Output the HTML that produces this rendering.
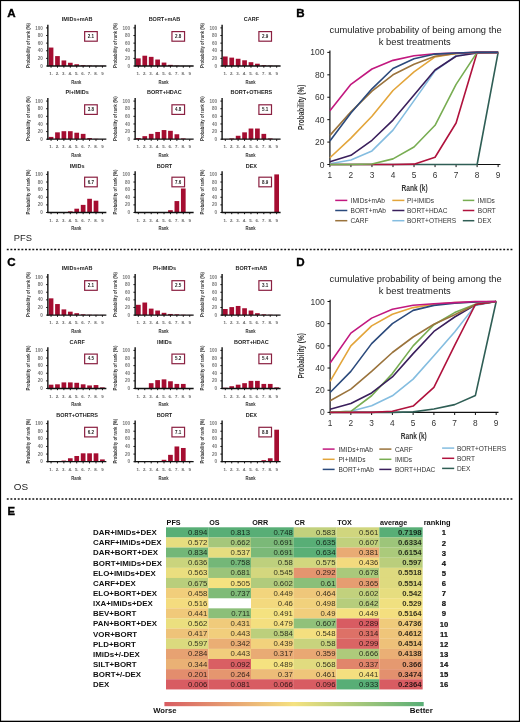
<!DOCTYPE html>
<html><head><meta charset="utf-8"><style>
html,body{margin:0;padding:0;background:#fff;}
svg{display:block;will-change:transform;font-family:"Liberation Sans",sans-serif;}
</style></head><body>
<svg width="520" height="722" viewBox="0 0 520 722">
<rect width="520" height="722" fill="#fff"/>
<rect x="48.7" y="47.56" width="4.7" height="18.44" fill="#a50d31"/>
<rect x="55.12" y="56.09" width="4.7" height="9.91" fill="#a50d31"/>
<rect x="61.54" y="60.44" width="4.7" height="5.56" fill="#a50d31"/>
<rect x="67.96" y="62.76" width="4.7" height="3.24" fill="#a50d31"/>
<rect x="74.38" y="64.25" width="4.7" height="1.75" fill="#a50d31"/>
<rect x="80.8" y="65.24" width="4.7" height="0.76" fill="#a50d31"/>
<rect x="87.22" y="65.62" width="4.7" height="0.38" fill="#a50d31"/>
<rect x="93.64" y="65.81" width="4.7" height="0.19" fill="#a50d31"/>
<rect x="100.06" y="65.81" width="4.7" height="0.19" fill="#a50d31"/>
<line x1="47.85" y1="24.8" x2="47.85" y2="66.6" stroke="#111" stroke-width="1.4"/>
<line x1="46.15" y1="66" x2="47.85" y2="66" stroke="#111" stroke-width="1"/>
<text x="42.85" y="67.6" font-size="4.6" text-anchor="end" font-weight="bold" fill="#777">0</text>
<line x1="46.15" y1="58.38" x2="47.85" y2="58.38" stroke="#111" stroke-width="1"/>
<text x="42.85" y="59.98" font-size="4.6" text-anchor="end" font-weight="bold" fill="#777">20</text>
<line x1="46.15" y1="50.76" x2="47.85" y2="50.76" stroke="#111" stroke-width="1"/>
<text x="42.85" y="52.36" font-size="4.6" text-anchor="end" font-weight="bold" fill="#777">40</text>
<line x1="46.15" y1="43.14" x2="47.85" y2="43.14" stroke="#111" stroke-width="1"/>
<text x="42.85" y="44.74" font-size="4.6" text-anchor="end" font-weight="bold" fill="#777">60</text>
<line x1="46.15" y1="35.52" x2="47.85" y2="35.52" stroke="#111" stroke-width="1"/>
<text x="42.85" y="37.12" font-size="4.6" text-anchor="end" font-weight="bold" fill="#777">80</text>
<line x1="46.15" y1="27.9" x2="47.85" y2="27.9" stroke="#111" stroke-width="1"/>
<text x="42.85" y="29.5" font-size="4.6" text-anchor="end" font-weight="bold" fill="#777">100</text>
<line x1="47.35" y1="66" x2="106.35" y2="66" stroke="#111" stroke-width="1.3"/>
<line x1="51.05" y1="66" x2="51.05" y2="67.7" stroke="#111" stroke-width="1"/>
<text x="51.05" y="75.2" font-size="4.4" text-anchor="middle" font-weight="bold" fill="#666">1.</text>
<line x1="57.47" y1="66" x2="57.47" y2="67.7" stroke="#111" stroke-width="1"/>
<text x="57.47" y="75.2" font-size="4.4" text-anchor="middle" font-weight="bold" fill="#666">2.</text>
<line x1="63.89" y1="66" x2="63.89" y2="67.7" stroke="#111" stroke-width="1"/>
<text x="63.89" y="75.2" font-size="4.4" text-anchor="middle" font-weight="bold" fill="#666">3.</text>
<line x1="70.31" y1="66" x2="70.31" y2="67.7" stroke="#111" stroke-width="1"/>
<text x="70.31" y="75.2" font-size="4.4" text-anchor="middle" font-weight="bold" fill="#666">4.</text>
<line x1="76.73" y1="66" x2="76.73" y2="67.7" stroke="#111" stroke-width="1"/>
<text x="76.73" y="75.2" font-size="4.4" text-anchor="middle" font-weight="bold" fill="#666">5.</text>
<line x1="83.15" y1="66" x2="83.15" y2="67.7" stroke="#111" stroke-width="1"/>
<text x="83.15" y="75.2" font-size="4.4" text-anchor="middle" font-weight="bold" fill="#666">6.</text>
<line x1="89.57" y1="66" x2="89.57" y2="67.7" stroke="#111" stroke-width="1"/>
<text x="89.57" y="75.2" font-size="4.4" text-anchor="middle" font-weight="bold" fill="#666">7.</text>
<line x1="95.99" y1="66" x2="95.99" y2="67.7" stroke="#111" stroke-width="1"/>
<text x="95.99" y="75.2" font-size="4.4" text-anchor="middle" font-weight="bold" fill="#666">8.</text>
<line x1="102.41" y1="66" x2="102.41" y2="67.7" stroke="#111" stroke-width="1"/>
<text x="102.41" y="75.2" font-size="4.4" text-anchor="middle" font-weight="bold" fill="#666">9</text>
<text x="76.25" y="83.8" font-size="5.6" text-anchor="middle" font-weight="bold" fill="#333" textLength="10.2" lengthAdjust="spacingAndGlyphs">Rank</text>
<text x="77.15" y="21" font-size="5.5" text-anchor="middle" font-weight="bold" fill="#222">IMIDs+mAB</text>
<rect x="84.65" y="31.6" width="12.6" height="9.6" fill="#fff" stroke="#8a2041" stroke-width="1.2"/>
<text x="90.95" y="37.9" font-size="4.5" text-anchor="middle" font-weight="bold" fill="#222">2.1</text>
<text x="0" y="0" font-size="5.9" font-weight="bold" text-anchor="middle" fill="#333" transform="translate(30.05 45.5) rotate(-90)" textLength="44.8" lengthAdjust="spacingAndGlyphs">Probability of rank (%)</text>
<rect x="136" y="58.38" width="4.7" height="7.62" fill="#a50d31"/>
<rect x="142.42" y="55.71" width="4.7" height="10.29" fill="#a50d31"/>
<rect x="148.84" y="56.86" width="4.7" height="9.14" fill="#a50d31"/>
<rect x="155.26" y="59.52" width="4.7" height="6.48" fill="#a50d31"/>
<rect x="161.68" y="62.57" width="4.7" height="3.43" fill="#a50d31"/>
<rect x="168.1" y="64.86" width="4.7" height="1.14" fill="#a50d31"/>
<rect x="174.52" y="65.62" width="4.7" height="0.38" fill="#a50d31"/>
<rect x="180.94" y="65.85" width="4.7" height="0.15" fill="#a50d31"/>
<rect x="187.36" y="65.89" width="4.7" height="0.11" fill="#a50d31"/>
<line x1="135.15" y1="24.8" x2="135.15" y2="66.6" stroke="#111" stroke-width="1.4"/>
<line x1="133.45" y1="66" x2="135.15" y2="66" stroke="#111" stroke-width="1"/>
<text x="130.15" y="67.6" font-size="4.6" text-anchor="end" font-weight="bold" fill="#777">0</text>
<line x1="133.45" y1="58.38" x2="135.15" y2="58.38" stroke="#111" stroke-width="1"/>
<text x="130.15" y="59.98" font-size="4.6" text-anchor="end" font-weight="bold" fill="#777">20</text>
<line x1="133.45" y1="50.76" x2="135.15" y2="50.76" stroke="#111" stroke-width="1"/>
<text x="130.15" y="52.36" font-size="4.6" text-anchor="end" font-weight="bold" fill="#777">40</text>
<line x1="133.45" y1="43.14" x2="135.15" y2="43.14" stroke="#111" stroke-width="1"/>
<text x="130.15" y="44.74" font-size="4.6" text-anchor="end" font-weight="bold" fill="#777">60</text>
<line x1="133.45" y1="35.52" x2="135.15" y2="35.52" stroke="#111" stroke-width="1"/>
<text x="130.15" y="37.12" font-size="4.6" text-anchor="end" font-weight="bold" fill="#777">80</text>
<line x1="133.45" y1="27.9" x2="135.15" y2="27.9" stroke="#111" stroke-width="1"/>
<text x="130.15" y="29.5" font-size="4.6" text-anchor="end" font-weight="bold" fill="#777">100</text>
<line x1="134.65" y1="66" x2="193.65" y2="66" stroke="#111" stroke-width="1.3"/>
<line x1="138.35" y1="66" x2="138.35" y2="67.7" stroke="#111" stroke-width="1"/>
<text x="138.35" y="75.2" font-size="4.4" text-anchor="middle" font-weight="bold" fill="#666">1.</text>
<line x1="144.77" y1="66" x2="144.77" y2="67.7" stroke="#111" stroke-width="1"/>
<text x="144.77" y="75.2" font-size="4.4" text-anchor="middle" font-weight="bold" fill="#666">2.</text>
<line x1="151.19" y1="66" x2="151.19" y2="67.7" stroke="#111" stroke-width="1"/>
<text x="151.19" y="75.2" font-size="4.4" text-anchor="middle" font-weight="bold" fill="#666">3.</text>
<line x1="157.61" y1="66" x2="157.61" y2="67.7" stroke="#111" stroke-width="1"/>
<text x="157.61" y="75.2" font-size="4.4" text-anchor="middle" font-weight="bold" fill="#666">4.</text>
<line x1="164.03" y1="66" x2="164.03" y2="67.7" stroke="#111" stroke-width="1"/>
<text x="164.03" y="75.2" font-size="4.4" text-anchor="middle" font-weight="bold" fill="#666">5.</text>
<line x1="170.45" y1="66" x2="170.45" y2="67.7" stroke="#111" stroke-width="1"/>
<text x="170.45" y="75.2" font-size="4.4" text-anchor="middle" font-weight="bold" fill="#666">6.</text>
<line x1="176.87" y1="66" x2="176.87" y2="67.7" stroke="#111" stroke-width="1"/>
<text x="176.87" y="75.2" font-size="4.4" text-anchor="middle" font-weight="bold" fill="#666">7.</text>
<line x1="183.29" y1="66" x2="183.29" y2="67.7" stroke="#111" stroke-width="1"/>
<text x="183.29" y="75.2" font-size="4.4" text-anchor="middle" font-weight="bold" fill="#666">8.</text>
<line x1="189.71" y1="66" x2="189.71" y2="67.7" stroke="#111" stroke-width="1"/>
<text x="189.71" y="75.2" font-size="4.4" text-anchor="middle" font-weight="bold" fill="#666">9</text>
<text x="163.55" y="83.8" font-size="5.6" text-anchor="middle" font-weight="bold" fill="#333" textLength="10.2" lengthAdjust="spacingAndGlyphs">Rank</text>
<text x="164.45" y="21" font-size="5.5" text-anchor="middle" font-weight="bold" fill="#222">BORT+mAB</text>
<rect x="171.95" y="31.6" width="12.6" height="9.6" fill="#fff" stroke="#8a2041" stroke-width="1.2"/>
<text x="178.25" y="37.9" font-size="4.5" text-anchor="middle" font-weight="bold" fill="#222">2.8</text>
<text x="0" y="0" font-size="5.9" font-weight="bold" text-anchor="middle" fill="#333" transform="translate(117.35 45.5) rotate(-90)" textLength="44.8" lengthAdjust="spacingAndGlyphs">Probability of rank (%)</text>
<rect x="222.95" y="56.48" width="4.7" height="9.53" fill="#a50d31"/>
<rect x="229.37" y="57.62" width="4.7" height="8.38" fill="#a50d31"/>
<rect x="235.79" y="58.76" width="4.7" height="7.24" fill="#a50d31"/>
<rect x="242.21" y="60.28" width="4.7" height="5.71" fill="#a50d31"/>
<rect x="248.63" y="62.19" width="4.7" height="3.81" fill="#a50d31"/>
<rect x="255.05" y="63.71" width="4.7" height="2.29" fill="#a50d31"/>
<rect x="261.47" y="65.24" width="4.7" height="0.76" fill="#a50d31"/>
<rect x="267.89" y="65.62" width="4.7" height="0.38" fill="#a50d31"/>
<rect x="274.31" y="65.85" width="4.7" height="0.15" fill="#a50d31"/>
<line x1="222.1" y1="24.8" x2="222.1" y2="66.6" stroke="#111" stroke-width="1.4"/>
<line x1="220.4" y1="66" x2="222.1" y2="66" stroke="#111" stroke-width="1"/>
<text x="217.1" y="67.6" font-size="4.6" text-anchor="end" font-weight="bold" fill="#777">0</text>
<line x1="220.4" y1="58.38" x2="222.1" y2="58.38" stroke="#111" stroke-width="1"/>
<text x="217.1" y="59.98" font-size="4.6" text-anchor="end" font-weight="bold" fill="#777">20</text>
<line x1="220.4" y1="50.76" x2="222.1" y2="50.76" stroke="#111" stroke-width="1"/>
<text x="217.1" y="52.36" font-size="4.6" text-anchor="end" font-weight="bold" fill="#777">40</text>
<line x1="220.4" y1="43.14" x2="222.1" y2="43.14" stroke="#111" stroke-width="1"/>
<text x="217.1" y="44.74" font-size="4.6" text-anchor="end" font-weight="bold" fill="#777">60</text>
<line x1="220.4" y1="35.52" x2="222.1" y2="35.52" stroke="#111" stroke-width="1"/>
<text x="217.1" y="37.12" font-size="4.6" text-anchor="end" font-weight="bold" fill="#777">80</text>
<line x1="220.4" y1="27.9" x2="222.1" y2="27.9" stroke="#111" stroke-width="1"/>
<text x="217.1" y="29.5" font-size="4.6" text-anchor="end" font-weight="bold" fill="#777">100</text>
<line x1="221.6" y1="66" x2="280.6" y2="66" stroke="#111" stroke-width="1.3"/>
<line x1="225.3" y1="66" x2="225.3" y2="67.7" stroke="#111" stroke-width="1"/>
<text x="225.3" y="75.2" font-size="4.4" text-anchor="middle" font-weight="bold" fill="#666">1.</text>
<line x1="231.72" y1="66" x2="231.72" y2="67.7" stroke="#111" stroke-width="1"/>
<text x="231.72" y="75.2" font-size="4.4" text-anchor="middle" font-weight="bold" fill="#666">2.</text>
<line x1="238.14" y1="66" x2="238.14" y2="67.7" stroke="#111" stroke-width="1"/>
<text x="238.14" y="75.2" font-size="4.4" text-anchor="middle" font-weight="bold" fill="#666">3.</text>
<line x1="244.56" y1="66" x2="244.56" y2="67.7" stroke="#111" stroke-width="1"/>
<text x="244.56" y="75.2" font-size="4.4" text-anchor="middle" font-weight="bold" fill="#666">4.</text>
<line x1="250.98" y1="66" x2="250.98" y2="67.7" stroke="#111" stroke-width="1"/>
<text x="250.98" y="75.2" font-size="4.4" text-anchor="middle" font-weight="bold" fill="#666">5.</text>
<line x1="257.4" y1="66" x2="257.4" y2="67.7" stroke="#111" stroke-width="1"/>
<text x="257.4" y="75.2" font-size="4.4" text-anchor="middle" font-weight="bold" fill="#666">6.</text>
<line x1="263.82" y1="66" x2="263.82" y2="67.7" stroke="#111" stroke-width="1"/>
<text x="263.82" y="75.2" font-size="4.4" text-anchor="middle" font-weight="bold" fill="#666">7.</text>
<line x1="270.24" y1="66" x2="270.24" y2="67.7" stroke="#111" stroke-width="1"/>
<text x="270.24" y="75.2" font-size="4.4" text-anchor="middle" font-weight="bold" fill="#666">8.</text>
<line x1="276.66" y1="66" x2="276.66" y2="67.7" stroke="#111" stroke-width="1"/>
<text x="276.66" y="75.2" font-size="4.4" text-anchor="middle" font-weight="bold" fill="#666">9</text>
<text x="250.5" y="83.8" font-size="5.6" text-anchor="middle" font-weight="bold" fill="#333" textLength="10.2" lengthAdjust="spacingAndGlyphs">Rank</text>
<text x="251.4" y="21" font-size="5.5" text-anchor="middle" font-weight="bold" fill="#222">CARF</text>
<rect x="258.9" y="31.6" width="12.6" height="9.6" fill="#fff" stroke="#8a2041" stroke-width="1.2"/>
<text x="265.2" y="37.9" font-size="4.5" text-anchor="middle" font-weight="bold" fill="#222">2.9</text>
<text x="0" y="0" font-size="5.9" font-weight="bold" text-anchor="middle" fill="#333" transform="translate(204.3 45.5) rotate(-90)" textLength="44.8" lengthAdjust="spacingAndGlyphs">Probability of rank (%)</text>
<rect x="48.7" y="136.91" width="4.7" height="2.29" fill="#a50d31"/>
<rect x="55.12" y="132.34" width="4.7" height="6.86" fill="#a50d31"/>
<rect x="61.54" y="131.2" width="4.7" height="8" fill="#a50d31"/>
<rect x="67.96" y="131.2" width="4.7" height="8" fill="#a50d31"/>
<rect x="74.38" y="132.72" width="4.7" height="6.48" fill="#a50d31"/>
<rect x="80.8" y="133.87" width="4.7" height="5.33" fill="#a50d31"/>
<rect x="87.22" y="138.06" width="4.7" height="1.14" fill="#a50d31"/>
<rect x="93.64" y="138.82" width="4.7" height="0.38" fill="#a50d31"/>
<rect x="100.06" y="139.05" width="4.7" height="0.15" fill="#a50d31"/>
<line x1="47.85" y1="98" x2="47.85" y2="139.8" stroke="#111" stroke-width="1.4"/>
<line x1="46.15" y1="139.2" x2="47.85" y2="139.2" stroke="#111" stroke-width="1"/>
<text x="42.85" y="140.8" font-size="4.6" text-anchor="end" font-weight="bold" fill="#777">0</text>
<line x1="46.15" y1="131.58" x2="47.85" y2="131.58" stroke="#111" stroke-width="1"/>
<text x="42.85" y="133.18" font-size="4.6" text-anchor="end" font-weight="bold" fill="#777">20</text>
<line x1="46.15" y1="123.96" x2="47.85" y2="123.96" stroke="#111" stroke-width="1"/>
<text x="42.85" y="125.56" font-size="4.6" text-anchor="end" font-weight="bold" fill="#777">40</text>
<line x1="46.15" y1="116.34" x2="47.85" y2="116.34" stroke="#111" stroke-width="1"/>
<text x="42.85" y="117.94" font-size="4.6" text-anchor="end" font-weight="bold" fill="#777">60</text>
<line x1="46.15" y1="108.72" x2="47.85" y2="108.72" stroke="#111" stroke-width="1"/>
<text x="42.85" y="110.32" font-size="4.6" text-anchor="end" font-weight="bold" fill="#777">80</text>
<line x1="46.15" y1="101.1" x2="47.85" y2="101.1" stroke="#111" stroke-width="1"/>
<text x="42.85" y="102.7" font-size="4.6" text-anchor="end" font-weight="bold" fill="#777">100</text>
<line x1="47.35" y1="139.2" x2="106.35" y2="139.2" stroke="#111" stroke-width="1.3"/>
<line x1="51.05" y1="139.2" x2="51.05" y2="140.9" stroke="#111" stroke-width="1"/>
<text x="51.05" y="148.4" font-size="4.4" text-anchor="middle" font-weight="bold" fill="#666">1.</text>
<line x1="57.47" y1="139.2" x2="57.47" y2="140.9" stroke="#111" stroke-width="1"/>
<text x="57.47" y="148.4" font-size="4.4" text-anchor="middle" font-weight="bold" fill="#666">2.</text>
<line x1="63.89" y1="139.2" x2="63.89" y2="140.9" stroke="#111" stroke-width="1"/>
<text x="63.89" y="148.4" font-size="4.4" text-anchor="middle" font-weight="bold" fill="#666">3.</text>
<line x1="70.31" y1="139.2" x2="70.31" y2="140.9" stroke="#111" stroke-width="1"/>
<text x="70.31" y="148.4" font-size="4.4" text-anchor="middle" font-weight="bold" fill="#666">4.</text>
<line x1="76.73" y1="139.2" x2="76.73" y2="140.9" stroke="#111" stroke-width="1"/>
<text x="76.73" y="148.4" font-size="4.4" text-anchor="middle" font-weight="bold" fill="#666">5.</text>
<line x1="83.15" y1="139.2" x2="83.15" y2="140.9" stroke="#111" stroke-width="1"/>
<text x="83.15" y="148.4" font-size="4.4" text-anchor="middle" font-weight="bold" fill="#666">6.</text>
<line x1="89.57" y1="139.2" x2="89.57" y2="140.9" stroke="#111" stroke-width="1"/>
<text x="89.57" y="148.4" font-size="4.4" text-anchor="middle" font-weight="bold" fill="#666">7.</text>
<line x1="95.99" y1="139.2" x2="95.99" y2="140.9" stroke="#111" stroke-width="1"/>
<text x="95.99" y="148.4" font-size="4.4" text-anchor="middle" font-weight="bold" fill="#666">8.</text>
<line x1="102.41" y1="139.2" x2="102.41" y2="140.9" stroke="#111" stroke-width="1"/>
<text x="102.41" y="148.4" font-size="4.4" text-anchor="middle" font-weight="bold" fill="#666">9</text>
<text x="76.25" y="157" font-size="5.6" text-anchor="middle" font-weight="bold" fill="#333" textLength="10.2" lengthAdjust="spacingAndGlyphs">Rank</text>
<text x="77.15" y="94.2" font-size="5.5" text-anchor="middle" font-weight="bold" fill="#222">PI+IMIDs</text>
<rect x="84.65" y="104.8" width="12.6" height="9.6" fill="#fff" stroke="#8a2041" stroke-width="1.2"/>
<text x="90.95" y="111.1" font-size="4.5" text-anchor="middle" font-weight="bold" fill="#222">3.8</text>
<text x="0" y="0" font-size="5.9" font-weight="bold" text-anchor="middle" fill="#333" transform="translate(30.05 118.7) rotate(-90)" textLength="44.8" lengthAdjust="spacingAndGlyphs">Probability of rank (%)</text>
<rect x="136" y="138.06" width="4.7" height="1.14" fill="#a50d31"/>
<rect x="142.42" y="136.15" width="4.7" height="3.05" fill="#a50d31"/>
<rect x="148.84" y="133.87" width="4.7" height="5.33" fill="#a50d31"/>
<rect x="155.26" y="131.96" width="4.7" height="7.24" fill="#a50d31"/>
<rect x="161.68" y="130.06" width="4.7" height="9.14" fill="#a50d31"/>
<rect x="168.1" y="130.82" width="4.7" height="8.38" fill="#a50d31"/>
<rect x="174.52" y="134.25" width="4.7" height="4.95" fill="#a50d31"/>
<rect x="180.94" y="138.44" width="4.7" height="0.76" fill="#a50d31"/>
<rect x="187.36" y="139.05" width="4.7" height="0.15" fill="#a50d31"/>
<line x1="135.15" y1="98" x2="135.15" y2="139.8" stroke="#111" stroke-width="1.4"/>
<line x1="133.45" y1="139.2" x2="135.15" y2="139.2" stroke="#111" stroke-width="1"/>
<text x="130.15" y="140.8" font-size="4.6" text-anchor="end" font-weight="bold" fill="#777">0</text>
<line x1="133.45" y1="131.58" x2="135.15" y2="131.58" stroke="#111" stroke-width="1"/>
<text x="130.15" y="133.18" font-size="4.6" text-anchor="end" font-weight="bold" fill="#777">20</text>
<line x1="133.45" y1="123.96" x2="135.15" y2="123.96" stroke="#111" stroke-width="1"/>
<text x="130.15" y="125.56" font-size="4.6" text-anchor="end" font-weight="bold" fill="#777">40</text>
<line x1="133.45" y1="116.34" x2="135.15" y2="116.34" stroke="#111" stroke-width="1"/>
<text x="130.15" y="117.94" font-size="4.6" text-anchor="end" font-weight="bold" fill="#777">60</text>
<line x1="133.45" y1="108.72" x2="135.15" y2="108.72" stroke="#111" stroke-width="1"/>
<text x="130.15" y="110.32" font-size="4.6" text-anchor="end" font-weight="bold" fill="#777">80</text>
<line x1="133.45" y1="101.1" x2="135.15" y2="101.1" stroke="#111" stroke-width="1"/>
<text x="130.15" y="102.7" font-size="4.6" text-anchor="end" font-weight="bold" fill="#777">100</text>
<line x1="134.65" y1="139.2" x2="193.65" y2="139.2" stroke="#111" stroke-width="1.3"/>
<line x1="138.35" y1="139.2" x2="138.35" y2="140.9" stroke="#111" stroke-width="1"/>
<text x="138.35" y="148.4" font-size="4.4" text-anchor="middle" font-weight="bold" fill="#666">1.</text>
<line x1="144.77" y1="139.2" x2="144.77" y2="140.9" stroke="#111" stroke-width="1"/>
<text x="144.77" y="148.4" font-size="4.4" text-anchor="middle" font-weight="bold" fill="#666">2.</text>
<line x1="151.19" y1="139.2" x2="151.19" y2="140.9" stroke="#111" stroke-width="1"/>
<text x="151.19" y="148.4" font-size="4.4" text-anchor="middle" font-weight="bold" fill="#666">3.</text>
<line x1="157.61" y1="139.2" x2="157.61" y2="140.9" stroke="#111" stroke-width="1"/>
<text x="157.61" y="148.4" font-size="4.4" text-anchor="middle" font-weight="bold" fill="#666">4.</text>
<line x1="164.03" y1="139.2" x2="164.03" y2="140.9" stroke="#111" stroke-width="1"/>
<text x="164.03" y="148.4" font-size="4.4" text-anchor="middle" font-weight="bold" fill="#666">5.</text>
<line x1="170.45" y1="139.2" x2="170.45" y2="140.9" stroke="#111" stroke-width="1"/>
<text x="170.45" y="148.4" font-size="4.4" text-anchor="middle" font-weight="bold" fill="#666">6.</text>
<line x1="176.87" y1="139.2" x2="176.87" y2="140.9" stroke="#111" stroke-width="1"/>
<text x="176.87" y="148.4" font-size="4.4" text-anchor="middle" font-weight="bold" fill="#666">7.</text>
<line x1="183.29" y1="139.2" x2="183.29" y2="140.9" stroke="#111" stroke-width="1"/>
<text x="183.29" y="148.4" font-size="4.4" text-anchor="middle" font-weight="bold" fill="#666">8.</text>
<line x1="189.71" y1="139.2" x2="189.71" y2="140.9" stroke="#111" stroke-width="1"/>
<text x="189.71" y="148.4" font-size="4.4" text-anchor="middle" font-weight="bold" fill="#666">9</text>
<text x="163.55" y="157" font-size="5.6" text-anchor="middle" font-weight="bold" fill="#333" textLength="10.2" lengthAdjust="spacingAndGlyphs">Rank</text>
<text x="164.45" y="94.2" font-size="5.5" text-anchor="middle" font-weight="bold" fill="#222">BORT+HDAC</text>
<rect x="171.95" y="104.8" width="12.6" height="9.6" fill="#fff" stroke="#8a2041" stroke-width="1.2"/>
<text x="178.25" y="111.1" font-size="4.5" text-anchor="middle" font-weight="bold" fill="#222">4.8</text>
<text x="0" y="0" font-size="5.9" font-weight="bold" text-anchor="middle" fill="#333" transform="translate(117.35 118.7) rotate(-90)" textLength="44.8" lengthAdjust="spacingAndGlyphs">Probability of rank (%)</text>
<rect x="222.95" y="139.05" width="4.7" height="0.15" fill="#a50d31"/>
<rect x="229.37" y="138.44" width="4.7" height="0.76" fill="#a50d31"/>
<rect x="235.79" y="135.77" width="4.7" height="3.43" fill="#a50d31"/>
<rect x="242.21" y="132.34" width="4.7" height="6.86" fill="#a50d31"/>
<rect x="248.63" y="128.53" width="4.7" height="10.67" fill="#a50d31"/>
<rect x="255.05" y="128.53" width="4.7" height="10.67" fill="#a50d31"/>
<rect x="261.47" y="133.87" width="4.7" height="5.33" fill="#a50d31"/>
<rect x="267.89" y="138.44" width="4.7" height="0.76" fill="#a50d31"/>
<rect x="274.31" y="139.05" width="4.7" height="0.15" fill="#a50d31"/>
<line x1="222.1" y1="98" x2="222.1" y2="139.8" stroke="#111" stroke-width="1.4"/>
<line x1="220.4" y1="139.2" x2="222.1" y2="139.2" stroke="#111" stroke-width="1"/>
<text x="217.1" y="140.8" font-size="4.6" text-anchor="end" font-weight="bold" fill="#777">0</text>
<line x1="220.4" y1="131.58" x2="222.1" y2="131.58" stroke="#111" stroke-width="1"/>
<text x="217.1" y="133.18" font-size="4.6" text-anchor="end" font-weight="bold" fill="#777">20</text>
<line x1="220.4" y1="123.96" x2="222.1" y2="123.96" stroke="#111" stroke-width="1"/>
<text x="217.1" y="125.56" font-size="4.6" text-anchor="end" font-weight="bold" fill="#777">40</text>
<line x1="220.4" y1="116.34" x2="222.1" y2="116.34" stroke="#111" stroke-width="1"/>
<text x="217.1" y="117.94" font-size="4.6" text-anchor="end" font-weight="bold" fill="#777">60</text>
<line x1="220.4" y1="108.72" x2="222.1" y2="108.72" stroke="#111" stroke-width="1"/>
<text x="217.1" y="110.32" font-size="4.6" text-anchor="end" font-weight="bold" fill="#777">80</text>
<line x1="220.4" y1="101.1" x2="222.1" y2="101.1" stroke="#111" stroke-width="1"/>
<text x="217.1" y="102.7" font-size="4.6" text-anchor="end" font-weight="bold" fill="#777">100</text>
<line x1="221.6" y1="139.2" x2="280.6" y2="139.2" stroke="#111" stroke-width="1.3"/>
<line x1="225.3" y1="139.2" x2="225.3" y2="140.9" stroke="#111" stroke-width="1"/>
<text x="225.3" y="148.4" font-size="4.4" text-anchor="middle" font-weight="bold" fill="#666">1.</text>
<line x1="231.72" y1="139.2" x2="231.72" y2="140.9" stroke="#111" stroke-width="1"/>
<text x="231.72" y="148.4" font-size="4.4" text-anchor="middle" font-weight="bold" fill="#666">2.</text>
<line x1="238.14" y1="139.2" x2="238.14" y2="140.9" stroke="#111" stroke-width="1"/>
<text x="238.14" y="148.4" font-size="4.4" text-anchor="middle" font-weight="bold" fill="#666">3.</text>
<line x1="244.56" y1="139.2" x2="244.56" y2="140.9" stroke="#111" stroke-width="1"/>
<text x="244.56" y="148.4" font-size="4.4" text-anchor="middle" font-weight="bold" fill="#666">4.</text>
<line x1="250.98" y1="139.2" x2="250.98" y2="140.9" stroke="#111" stroke-width="1"/>
<text x="250.98" y="148.4" font-size="4.4" text-anchor="middle" font-weight="bold" fill="#666">5.</text>
<line x1="257.4" y1="139.2" x2="257.4" y2="140.9" stroke="#111" stroke-width="1"/>
<text x="257.4" y="148.4" font-size="4.4" text-anchor="middle" font-weight="bold" fill="#666">6.</text>
<line x1="263.82" y1="139.2" x2="263.82" y2="140.9" stroke="#111" stroke-width="1"/>
<text x="263.82" y="148.4" font-size="4.4" text-anchor="middle" font-weight="bold" fill="#666">7.</text>
<line x1="270.24" y1="139.2" x2="270.24" y2="140.9" stroke="#111" stroke-width="1"/>
<text x="270.24" y="148.4" font-size="4.4" text-anchor="middle" font-weight="bold" fill="#666">8.</text>
<line x1="276.66" y1="139.2" x2="276.66" y2="140.9" stroke="#111" stroke-width="1"/>
<text x="276.66" y="148.4" font-size="4.4" text-anchor="middle" font-weight="bold" fill="#666">9</text>
<text x="250.5" y="157" font-size="5.6" text-anchor="middle" font-weight="bold" fill="#333" textLength="10.2" lengthAdjust="spacingAndGlyphs">Rank</text>
<text x="251.4" y="94.2" font-size="5.5" text-anchor="middle" font-weight="bold" fill="#222">BORT+OTHERS</text>
<rect x="258.9" y="104.8" width="12.6" height="9.6" fill="#fff" stroke="#8a2041" stroke-width="1.2"/>
<text x="265.2" y="111.1" font-size="4.5" text-anchor="middle" font-weight="bold" fill="#222">5.1</text>
<text x="0" y="0" font-size="5.9" font-weight="bold" text-anchor="middle" fill="#333" transform="translate(204.3 118.7) rotate(-90)" textLength="44.8" lengthAdjust="spacingAndGlyphs">Probability of rank (%)</text>
<rect x="67.96" y="211.36" width="4.7" height="1.14" fill="#a50d31"/>
<rect x="74.38" y="208.69" width="4.7" height="3.81" fill="#a50d31"/>
<rect x="80.8" y="204.88" width="4.7" height="7.62" fill="#a50d31"/>
<rect x="87.22" y="198.78" width="4.7" height="13.72" fill="#a50d31"/>
<rect x="93.64" y="200.69" width="4.7" height="11.81" fill="#a50d31"/>
<rect x="100.06" y="212.35" width="4.7" height="0.15" fill="#a50d31"/>
<line x1="47.85" y1="171.3" x2="47.85" y2="213.1" stroke="#111" stroke-width="1.4"/>
<line x1="46.15" y1="212.5" x2="47.85" y2="212.5" stroke="#111" stroke-width="1"/>
<text x="42.85" y="214.1" font-size="4.6" text-anchor="end" font-weight="bold" fill="#777">0</text>
<line x1="46.15" y1="204.88" x2="47.85" y2="204.88" stroke="#111" stroke-width="1"/>
<text x="42.85" y="206.48" font-size="4.6" text-anchor="end" font-weight="bold" fill="#777">20</text>
<line x1="46.15" y1="197.26" x2="47.85" y2="197.26" stroke="#111" stroke-width="1"/>
<text x="42.85" y="198.86" font-size="4.6" text-anchor="end" font-weight="bold" fill="#777">40</text>
<line x1="46.15" y1="189.64" x2="47.85" y2="189.64" stroke="#111" stroke-width="1"/>
<text x="42.85" y="191.24" font-size="4.6" text-anchor="end" font-weight="bold" fill="#777">60</text>
<line x1="46.15" y1="182.02" x2="47.85" y2="182.02" stroke="#111" stroke-width="1"/>
<text x="42.85" y="183.62" font-size="4.6" text-anchor="end" font-weight="bold" fill="#777">80</text>
<line x1="46.15" y1="174.4" x2="47.85" y2="174.4" stroke="#111" stroke-width="1"/>
<text x="42.85" y="176" font-size="4.6" text-anchor="end" font-weight="bold" fill="#777">100</text>
<line x1="47.35" y1="212.5" x2="106.35" y2="212.5" stroke="#111" stroke-width="1.3"/>
<line x1="51.05" y1="212.5" x2="51.05" y2="214.2" stroke="#111" stroke-width="1"/>
<text x="51.05" y="221.7" font-size="4.4" text-anchor="middle" font-weight="bold" fill="#666">1.</text>
<line x1="57.47" y1="212.5" x2="57.47" y2="214.2" stroke="#111" stroke-width="1"/>
<text x="57.47" y="221.7" font-size="4.4" text-anchor="middle" font-weight="bold" fill="#666">2.</text>
<line x1="63.89" y1="212.5" x2="63.89" y2="214.2" stroke="#111" stroke-width="1"/>
<text x="63.89" y="221.7" font-size="4.4" text-anchor="middle" font-weight="bold" fill="#666">3.</text>
<line x1="70.31" y1="212.5" x2="70.31" y2="214.2" stroke="#111" stroke-width="1"/>
<text x="70.31" y="221.7" font-size="4.4" text-anchor="middle" font-weight="bold" fill="#666">4.</text>
<line x1="76.73" y1="212.5" x2="76.73" y2="214.2" stroke="#111" stroke-width="1"/>
<text x="76.73" y="221.7" font-size="4.4" text-anchor="middle" font-weight="bold" fill="#666">5.</text>
<line x1="83.15" y1="212.5" x2="83.15" y2="214.2" stroke="#111" stroke-width="1"/>
<text x="83.15" y="221.7" font-size="4.4" text-anchor="middle" font-weight="bold" fill="#666">6.</text>
<line x1="89.57" y1="212.5" x2="89.57" y2="214.2" stroke="#111" stroke-width="1"/>
<text x="89.57" y="221.7" font-size="4.4" text-anchor="middle" font-weight="bold" fill="#666">7.</text>
<line x1="95.99" y1="212.5" x2="95.99" y2="214.2" stroke="#111" stroke-width="1"/>
<text x="95.99" y="221.7" font-size="4.4" text-anchor="middle" font-weight="bold" fill="#666">8.</text>
<line x1="102.41" y1="212.5" x2="102.41" y2="214.2" stroke="#111" stroke-width="1"/>
<text x="102.41" y="221.7" font-size="4.4" text-anchor="middle" font-weight="bold" fill="#666">9</text>
<text x="76.25" y="230.3" font-size="5.6" text-anchor="middle" font-weight="bold" fill="#333" textLength="10.2" lengthAdjust="spacingAndGlyphs">Rank</text>
<text x="77.15" y="167.5" font-size="5.5" text-anchor="middle" font-weight="bold" fill="#222">IMIDs</text>
<rect x="84.65" y="177.2" width="12.6" height="9.6" fill="#fff" stroke="#8a2041" stroke-width="1.2"/>
<text x="90.95" y="183.5" font-size="4.5" text-anchor="middle" font-weight="bold" fill="#222">6.7</text>
<text x="0" y="0" font-size="5.9" font-weight="bold" text-anchor="middle" fill="#333" transform="translate(30.05 192) rotate(-90)" textLength="44.8" lengthAdjust="spacingAndGlyphs">Probability of rank (%)</text>
<rect x="161.68" y="212.12" width="4.7" height="0.38" fill="#a50d31"/>
<rect x="168.1" y="210.21" width="4.7" height="2.29" fill="#a50d31"/>
<rect x="174.52" y="201.07" width="4.7" height="11.43" fill="#a50d31"/>
<rect x="180.94" y="188.5" width="4.7" height="24" fill="#a50d31"/>
<rect x="187.36" y="212.35" width="4.7" height="0.15" fill="#a50d31"/>
<line x1="135.15" y1="171.3" x2="135.15" y2="213.1" stroke="#111" stroke-width="1.4"/>
<line x1="133.45" y1="212.5" x2="135.15" y2="212.5" stroke="#111" stroke-width="1"/>
<text x="130.15" y="214.1" font-size="4.6" text-anchor="end" font-weight="bold" fill="#777">0</text>
<line x1="133.45" y1="204.88" x2="135.15" y2="204.88" stroke="#111" stroke-width="1"/>
<text x="130.15" y="206.48" font-size="4.6" text-anchor="end" font-weight="bold" fill="#777">20</text>
<line x1="133.45" y1="197.26" x2="135.15" y2="197.26" stroke="#111" stroke-width="1"/>
<text x="130.15" y="198.86" font-size="4.6" text-anchor="end" font-weight="bold" fill="#777">40</text>
<line x1="133.45" y1="189.64" x2="135.15" y2="189.64" stroke="#111" stroke-width="1"/>
<text x="130.15" y="191.24" font-size="4.6" text-anchor="end" font-weight="bold" fill="#777">60</text>
<line x1="133.45" y1="182.02" x2="135.15" y2="182.02" stroke="#111" stroke-width="1"/>
<text x="130.15" y="183.62" font-size="4.6" text-anchor="end" font-weight="bold" fill="#777">80</text>
<line x1="133.45" y1="174.4" x2="135.15" y2="174.4" stroke="#111" stroke-width="1"/>
<text x="130.15" y="176" font-size="4.6" text-anchor="end" font-weight="bold" fill="#777">100</text>
<line x1="134.65" y1="212.5" x2="193.65" y2="212.5" stroke="#111" stroke-width="1.3"/>
<line x1="138.35" y1="212.5" x2="138.35" y2="214.2" stroke="#111" stroke-width="1"/>
<text x="138.35" y="221.7" font-size="4.4" text-anchor="middle" font-weight="bold" fill="#666">1.</text>
<line x1="144.77" y1="212.5" x2="144.77" y2="214.2" stroke="#111" stroke-width="1"/>
<text x="144.77" y="221.7" font-size="4.4" text-anchor="middle" font-weight="bold" fill="#666">2.</text>
<line x1="151.19" y1="212.5" x2="151.19" y2="214.2" stroke="#111" stroke-width="1"/>
<text x="151.19" y="221.7" font-size="4.4" text-anchor="middle" font-weight="bold" fill="#666">3.</text>
<line x1="157.61" y1="212.5" x2="157.61" y2="214.2" stroke="#111" stroke-width="1"/>
<text x="157.61" y="221.7" font-size="4.4" text-anchor="middle" font-weight="bold" fill="#666">4.</text>
<line x1="164.03" y1="212.5" x2="164.03" y2="214.2" stroke="#111" stroke-width="1"/>
<text x="164.03" y="221.7" font-size="4.4" text-anchor="middle" font-weight="bold" fill="#666">5.</text>
<line x1="170.45" y1="212.5" x2="170.45" y2="214.2" stroke="#111" stroke-width="1"/>
<text x="170.45" y="221.7" font-size="4.4" text-anchor="middle" font-weight="bold" fill="#666">6.</text>
<line x1="176.87" y1="212.5" x2="176.87" y2="214.2" stroke="#111" stroke-width="1"/>
<text x="176.87" y="221.7" font-size="4.4" text-anchor="middle" font-weight="bold" fill="#666">7.</text>
<line x1="183.29" y1="212.5" x2="183.29" y2="214.2" stroke="#111" stroke-width="1"/>
<text x="183.29" y="221.7" font-size="4.4" text-anchor="middle" font-weight="bold" fill="#666">8.</text>
<line x1="189.71" y1="212.5" x2="189.71" y2="214.2" stroke="#111" stroke-width="1"/>
<text x="189.71" y="221.7" font-size="4.4" text-anchor="middle" font-weight="bold" fill="#666">9</text>
<text x="163.55" y="230.3" font-size="5.6" text-anchor="middle" font-weight="bold" fill="#333" textLength="10.2" lengthAdjust="spacingAndGlyphs">Rank</text>
<text x="164.45" y="167.5" font-size="5.5" text-anchor="middle" font-weight="bold" fill="#222">BORT</text>
<rect x="171.95" y="177.2" width="12.6" height="9.6" fill="#fff" stroke="#8a2041" stroke-width="1.2"/>
<text x="178.25" y="183.5" font-size="4.5" text-anchor="middle" font-weight="bold" fill="#222">7.6</text>
<text x="0" y="0" font-size="5.9" font-weight="bold" text-anchor="middle" fill="#333" transform="translate(117.35 192) rotate(-90)" textLength="44.8" lengthAdjust="spacingAndGlyphs">Probability of rank (%)</text>
<rect x="267.89" y="212.27" width="4.7" height="0.23" fill="#a50d31"/>
<rect x="274.31" y="174.4" width="4.7" height="38.1" fill="#a50d31"/>
<line x1="222.1" y1="171.3" x2="222.1" y2="213.1" stroke="#111" stroke-width="1.4"/>
<line x1="220.4" y1="212.5" x2="222.1" y2="212.5" stroke="#111" stroke-width="1"/>
<text x="217.1" y="214.1" font-size="4.6" text-anchor="end" font-weight="bold" fill="#777">0</text>
<line x1="220.4" y1="204.88" x2="222.1" y2="204.88" stroke="#111" stroke-width="1"/>
<text x="217.1" y="206.48" font-size="4.6" text-anchor="end" font-weight="bold" fill="#777">20</text>
<line x1="220.4" y1="197.26" x2="222.1" y2="197.26" stroke="#111" stroke-width="1"/>
<text x="217.1" y="198.86" font-size="4.6" text-anchor="end" font-weight="bold" fill="#777">40</text>
<line x1="220.4" y1="189.64" x2="222.1" y2="189.64" stroke="#111" stroke-width="1"/>
<text x="217.1" y="191.24" font-size="4.6" text-anchor="end" font-weight="bold" fill="#777">60</text>
<line x1="220.4" y1="182.02" x2="222.1" y2="182.02" stroke="#111" stroke-width="1"/>
<text x="217.1" y="183.62" font-size="4.6" text-anchor="end" font-weight="bold" fill="#777">80</text>
<line x1="220.4" y1="174.4" x2="222.1" y2="174.4" stroke="#111" stroke-width="1"/>
<text x="217.1" y="176" font-size="4.6" text-anchor="end" font-weight="bold" fill="#777">100</text>
<line x1="221.6" y1="212.5" x2="280.6" y2="212.5" stroke="#111" stroke-width="1.3"/>
<line x1="225.3" y1="212.5" x2="225.3" y2="214.2" stroke="#111" stroke-width="1"/>
<text x="225.3" y="221.7" font-size="4.4" text-anchor="middle" font-weight="bold" fill="#666">1.</text>
<line x1="231.72" y1="212.5" x2="231.72" y2="214.2" stroke="#111" stroke-width="1"/>
<text x="231.72" y="221.7" font-size="4.4" text-anchor="middle" font-weight="bold" fill="#666">2.</text>
<line x1="238.14" y1="212.5" x2="238.14" y2="214.2" stroke="#111" stroke-width="1"/>
<text x="238.14" y="221.7" font-size="4.4" text-anchor="middle" font-weight="bold" fill="#666">3.</text>
<line x1="244.56" y1="212.5" x2="244.56" y2="214.2" stroke="#111" stroke-width="1"/>
<text x="244.56" y="221.7" font-size="4.4" text-anchor="middle" font-weight="bold" fill="#666">4.</text>
<line x1="250.98" y1="212.5" x2="250.98" y2="214.2" stroke="#111" stroke-width="1"/>
<text x="250.98" y="221.7" font-size="4.4" text-anchor="middle" font-weight="bold" fill="#666">5.</text>
<line x1="257.4" y1="212.5" x2="257.4" y2="214.2" stroke="#111" stroke-width="1"/>
<text x="257.4" y="221.7" font-size="4.4" text-anchor="middle" font-weight="bold" fill="#666">6.</text>
<line x1="263.82" y1="212.5" x2="263.82" y2="214.2" stroke="#111" stroke-width="1"/>
<text x="263.82" y="221.7" font-size="4.4" text-anchor="middle" font-weight="bold" fill="#666">7.</text>
<line x1="270.24" y1="212.5" x2="270.24" y2="214.2" stroke="#111" stroke-width="1"/>
<text x="270.24" y="221.7" font-size="4.4" text-anchor="middle" font-weight="bold" fill="#666">8.</text>
<line x1="276.66" y1="212.5" x2="276.66" y2="214.2" stroke="#111" stroke-width="1"/>
<text x="276.66" y="221.7" font-size="4.4" text-anchor="middle" font-weight="bold" fill="#666">9</text>
<text x="250.5" y="230.3" font-size="5.6" text-anchor="middle" font-weight="bold" fill="#333" textLength="10.2" lengthAdjust="spacingAndGlyphs">Rank</text>
<text x="251.4" y="167.5" font-size="5.5" text-anchor="middle" font-weight="bold" fill="#222">DEX</text>
<rect x="258.9" y="177.2" width="12.6" height="9.6" fill="#fff" stroke="#8a2041" stroke-width="1.2"/>
<text x="265.2" y="183.5" font-size="4.5" text-anchor="middle" font-weight="bold" fill="#222">8.9</text>
<text x="0" y="0" font-size="5.9" font-weight="bold" text-anchor="middle" fill="#333" transform="translate(204.3 192) rotate(-90)" textLength="44.8" lengthAdjust="spacingAndGlyphs">Probability of rank (%)</text>
<rect x="48.7" y="298.34" width="4.7" height="16.76" fill="#a50d31"/>
<rect x="55.12" y="304.05" width="4.7" height="11.05" fill="#a50d31"/>
<rect x="61.54" y="309.39" width="4.7" height="5.71" fill="#a50d31"/>
<rect x="67.96" y="311.67" width="4.7" height="3.43" fill="#a50d31"/>
<rect x="74.38" y="313.2" width="4.7" height="1.91" fill="#a50d31"/>
<rect x="80.8" y="314.34" width="4.7" height="0.76" fill="#a50d31"/>
<rect x="87.22" y="314.72" width="4.7" height="0.38" fill="#a50d31"/>
<rect x="93.64" y="314.87" width="4.7" height="0.23" fill="#a50d31"/>
<rect x="100.06" y="314.91" width="4.7" height="0.19" fill="#a50d31"/>
<line x1="47.85" y1="273.9" x2="47.85" y2="315.7" stroke="#111" stroke-width="1.4"/>
<line x1="46.15" y1="315.1" x2="47.85" y2="315.1" stroke="#111" stroke-width="1"/>
<text x="42.85" y="316.7" font-size="4.6" text-anchor="end" font-weight="bold" fill="#777">0</text>
<line x1="46.15" y1="307.48" x2="47.85" y2="307.48" stroke="#111" stroke-width="1"/>
<text x="42.85" y="309.08" font-size="4.6" text-anchor="end" font-weight="bold" fill="#777">20</text>
<line x1="46.15" y1="299.86" x2="47.85" y2="299.86" stroke="#111" stroke-width="1"/>
<text x="42.85" y="301.46" font-size="4.6" text-anchor="end" font-weight="bold" fill="#777">40</text>
<line x1="46.15" y1="292.24" x2="47.85" y2="292.24" stroke="#111" stroke-width="1"/>
<text x="42.85" y="293.84" font-size="4.6" text-anchor="end" font-weight="bold" fill="#777">60</text>
<line x1="46.15" y1="284.62" x2="47.85" y2="284.62" stroke="#111" stroke-width="1"/>
<text x="42.85" y="286.22" font-size="4.6" text-anchor="end" font-weight="bold" fill="#777">80</text>
<line x1="46.15" y1="277" x2="47.85" y2="277" stroke="#111" stroke-width="1"/>
<text x="42.85" y="278.6" font-size="4.6" text-anchor="end" font-weight="bold" fill="#777">100</text>
<line x1="47.35" y1="315.1" x2="106.35" y2="315.1" stroke="#111" stroke-width="1.3"/>
<line x1="51.05" y1="315.1" x2="51.05" y2="316.8" stroke="#111" stroke-width="1"/>
<text x="51.05" y="324.3" font-size="4.4" text-anchor="middle" font-weight="bold" fill="#666">1.</text>
<line x1="57.47" y1="315.1" x2="57.47" y2="316.8" stroke="#111" stroke-width="1"/>
<text x="57.47" y="324.3" font-size="4.4" text-anchor="middle" font-weight="bold" fill="#666">2.</text>
<line x1="63.89" y1="315.1" x2="63.89" y2="316.8" stroke="#111" stroke-width="1"/>
<text x="63.89" y="324.3" font-size="4.4" text-anchor="middle" font-weight="bold" fill="#666">3.</text>
<line x1="70.31" y1="315.1" x2="70.31" y2="316.8" stroke="#111" stroke-width="1"/>
<text x="70.31" y="324.3" font-size="4.4" text-anchor="middle" font-weight="bold" fill="#666">4.</text>
<line x1="76.73" y1="315.1" x2="76.73" y2="316.8" stroke="#111" stroke-width="1"/>
<text x="76.73" y="324.3" font-size="4.4" text-anchor="middle" font-weight="bold" fill="#666">5.</text>
<line x1="83.15" y1="315.1" x2="83.15" y2="316.8" stroke="#111" stroke-width="1"/>
<text x="83.15" y="324.3" font-size="4.4" text-anchor="middle" font-weight="bold" fill="#666">6.</text>
<line x1="89.57" y1="315.1" x2="89.57" y2="316.8" stroke="#111" stroke-width="1"/>
<text x="89.57" y="324.3" font-size="4.4" text-anchor="middle" font-weight="bold" fill="#666">7.</text>
<line x1="95.99" y1="315.1" x2="95.99" y2="316.8" stroke="#111" stroke-width="1"/>
<text x="95.99" y="324.3" font-size="4.4" text-anchor="middle" font-weight="bold" fill="#666">8.</text>
<line x1="102.41" y1="315.1" x2="102.41" y2="316.8" stroke="#111" stroke-width="1"/>
<text x="102.41" y="324.3" font-size="4.4" text-anchor="middle" font-weight="bold" fill="#666">9</text>
<text x="76.25" y="332.9" font-size="5.6" text-anchor="middle" font-weight="bold" fill="#333" textLength="10.2" lengthAdjust="spacingAndGlyphs">Rank</text>
<text x="77.15" y="270.1" font-size="5.5" text-anchor="middle" font-weight="bold" fill="#222">IMIDs+mAB</text>
<rect x="84.65" y="280.7" width="12.6" height="9.6" fill="#fff" stroke="#8a2041" stroke-width="1.2"/>
<text x="90.95" y="287" font-size="4.5" text-anchor="middle" font-weight="bold" fill="#222">2.1</text>
<text x="0" y="0" font-size="5.9" font-weight="bold" text-anchor="middle" fill="#333" transform="translate(30.05 294.6) rotate(-90)" textLength="44.8" lengthAdjust="spacingAndGlyphs">Probability of rank (%)</text>
<rect x="136" y="304.81" width="4.7" height="10.29" fill="#a50d31"/>
<rect x="142.42" y="302.53" width="4.7" height="12.57" fill="#a50d31"/>
<rect x="148.84" y="308.62" width="4.7" height="6.48" fill="#a50d31"/>
<rect x="155.26" y="310.53" width="4.7" height="4.57" fill="#a50d31"/>
<rect x="161.68" y="312.81" width="4.7" height="2.29" fill="#a50d31"/>
<rect x="168.1" y="313.96" width="4.7" height="1.14" fill="#a50d31"/>
<rect x="174.52" y="314.34" width="4.7" height="0.76" fill="#a50d31"/>
<rect x="180.94" y="314.72" width="4.7" height="0.38" fill="#a50d31"/>
<rect x="187.36" y="314.91" width="4.7" height="0.19" fill="#a50d31"/>
<line x1="135.15" y1="273.9" x2="135.15" y2="315.7" stroke="#111" stroke-width="1.4"/>
<line x1="133.45" y1="315.1" x2="135.15" y2="315.1" stroke="#111" stroke-width="1"/>
<text x="130.15" y="316.7" font-size="4.6" text-anchor="end" font-weight="bold" fill="#777">0</text>
<line x1="133.45" y1="307.48" x2="135.15" y2="307.48" stroke="#111" stroke-width="1"/>
<text x="130.15" y="309.08" font-size="4.6" text-anchor="end" font-weight="bold" fill="#777">20</text>
<line x1="133.45" y1="299.86" x2="135.15" y2="299.86" stroke="#111" stroke-width="1"/>
<text x="130.15" y="301.46" font-size="4.6" text-anchor="end" font-weight="bold" fill="#777">40</text>
<line x1="133.45" y1="292.24" x2="135.15" y2="292.24" stroke="#111" stroke-width="1"/>
<text x="130.15" y="293.84" font-size="4.6" text-anchor="end" font-weight="bold" fill="#777">60</text>
<line x1="133.45" y1="284.62" x2="135.15" y2="284.62" stroke="#111" stroke-width="1"/>
<text x="130.15" y="286.22" font-size="4.6" text-anchor="end" font-weight="bold" fill="#777">80</text>
<line x1="133.45" y1="277" x2="135.15" y2="277" stroke="#111" stroke-width="1"/>
<text x="130.15" y="278.6" font-size="4.6" text-anchor="end" font-weight="bold" fill="#777">100</text>
<line x1="134.65" y1="315.1" x2="193.65" y2="315.1" stroke="#111" stroke-width="1.3"/>
<line x1="138.35" y1="315.1" x2="138.35" y2="316.8" stroke="#111" stroke-width="1"/>
<text x="138.35" y="324.3" font-size="4.4" text-anchor="middle" font-weight="bold" fill="#666">1.</text>
<line x1="144.77" y1="315.1" x2="144.77" y2="316.8" stroke="#111" stroke-width="1"/>
<text x="144.77" y="324.3" font-size="4.4" text-anchor="middle" font-weight="bold" fill="#666">2.</text>
<line x1="151.19" y1="315.1" x2="151.19" y2="316.8" stroke="#111" stroke-width="1"/>
<text x="151.19" y="324.3" font-size="4.4" text-anchor="middle" font-weight="bold" fill="#666">3.</text>
<line x1="157.61" y1="315.1" x2="157.61" y2="316.8" stroke="#111" stroke-width="1"/>
<text x="157.61" y="324.3" font-size="4.4" text-anchor="middle" font-weight="bold" fill="#666">4.</text>
<line x1="164.03" y1="315.1" x2="164.03" y2="316.8" stroke="#111" stroke-width="1"/>
<text x="164.03" y="324.3" font-size="4.4" text-anchor="middle" font-weight="bold" fill="#666">5.</text>
<line x1="170.45" y1="315.1" x2="170.45" y2="316.8" stroke="#111" stroke-width="1"/>
<text x="170.45" y="324.3" font-size="4.4" text-anchor="middle" font-weight="bold" fill="#666">6.</text>
<line x1="176.87" y1="315.1" x2="176.87" y2="316.8" stroke="#111" stroke-width="1"/>
<text x="176.87" y="324.3" font-size="4.4" text-anchor="middle" font-weight="bold" fill="#666">7.</text>
<line x1="183.29" y1="315.1" x2="183.29" y2="316.8" stroke="#111" stroke-width="1"/>
<text x="183.29" y="324.3" font-size="4.4" text-anchor="middle" font-weight="bold" fill="#666">8.</text>
<line x1="189.71" y1="315.1" x2="189.71" y2="316.8" stroke="#111" stroke-width="1"/>
<text x="189.71" y="324.3" font-size="4.4" text-anchor="middle" font-weight="bold" fill="#666">9</text>
<text x="163.55" y="332.9" font-size="5.6" text-anchor="middle" font-weight="bold" fill="#333" textLength="10.2" lengthAdjust="spacingAndGlyphs">Rank</text>
<text x="164.45" y="270.1" font-size="5.5" text-anchor="middle" font-weight="bold" fill="#222">PI+IMIDs</text>
<rect x="171.95" y="280.7" width="12.6" height="9.6" fill="#fff" stroke="#8a2041" stroke-width="1.2"/>
<text x="178.25" y="287" font-size="4.5" text-anchor="middle" font-weight="bold" fill="#222">2.5</text>
<text x="0" y="0" font-size="5.9" font-weight="bold" text-anchor="middle" fill="#333" transform="translate(117.35 294.6) rotate(-90)" textLength="44.8" lengthAdjust="spacingAndGlyphs">Probability of rank (%)</text>
<rect x="222.95" y="309" width="4.7" height="6.1" fill="#a50d31"/>
<rect x="229.37" y="307.1" width="4.7" height="8" fill="#a50d31"/>
<rect x="235.79" y="305.96" width="4.7" height="9.14" fill="#a50d31"/>
<rect x="242.21" y="308.24" width="4.7" height="6.86" fill="#a50d31"/>
<rect x="248.63" y="310.53" width="4.7" height="4.57" fill="#a50d31"/>
<rect x="255.05" y="313.2" width="4.7" height="1.91" fill="#a50d31"/>
<rect x="261.47" y="314.34" width="4.7" height="0.76" fill="#a50d31"/>
<rect x="267.89" y="314.72" width="4.7" height="0.38" fill="#a50d31"/>
<rect x="274.31" y="314.91" width="4.7" height="0.19" fill="#a50d31"/>
<line x1="222.1" y1="273.9" x2="222.1" y2="315.7" stroke="#111" stroke-width="1.4"/>
<line x1="220.4" y1="315.1" x2="222.1" y2="315.1" stroke="#111" stroke-width="1"/>
<text x="217.1" y="316.7" font-size="4.6" text-anchor="end" font-weight="bold" fill="#777">0</text>
<line x1="220.4" y1="307.48" x2="222.1" y2="307.48" stroke="#111" stroke-width="1"/>
<text x="217.1" y="309.08" font-size="4.6" text-anchor="end" font-weight="bold" fill="#777">20</text>
<line x1="220.4" y1="299.86" x2="222.1" y2="299.86" stroke="#111" stroke-width="1"/>
<text x="217.1" y="301.46" font-size="4.6" text-anchor="end" font-weight="bold" fill="#777">40</text>
<line x1="220.4" y1="292.24" x2="222.1" y2="292.24" stroke="#111" stroke-width="1"/>
<text x="217.1" y="293.84" font-size="4.6" text-anchor="end" font-weight="bold" fill="#777">60</text>
<line x1="220.4" y1="284.62" x2="222.1" y2="284.62" stroke="#111" stroke-width="1"/>
<text x="217.1" y="286.22" font-size="4.6" text-anchor="end" font-weight="bold" fill="#777">80</text>
<line x1="220.4" y1="277" x2="222.1" y2="277" stroke="#111" stroke-width="1"/>
<text x="217.1" y="278.6" font-size="4.6" text-anchor="end" font-weight="bold" fill="#777">100</text>
<line x1="221.6" y1="315.1" x2="280.6" y2="315.1" stroke="#111" stroke-width="1.3"/>
<line x1="225.3" y1="315.1" x2="225.3" y2="316.8" stroke="#111" stroke-width="1"/>
<text x="225.3" y="324.3" font-size="4.4" text-anchor="middle" font-weight="bold" fill="#666">1.</text>
<line x1="231.72" y1="315.1" x2="231.72" y2="316.8" stroke="#111" stroke-width="1"/>
<text x="231.72" y="324.3" font-size="4.4" text-anchor="middle" font-weight="bold" fill="#666">2.</text>
<line x1="238.14" y1="315.1" x2="238.14" y2="316.8" stroke="#111" stroke-width="1"/>
<text x="238.14" y="324.3" font-size="4.4" text-anchor="middle" font-weight="bold" fill="#666">3.</text>
<line x1="244.56" y1="315.1" x2="244.56" y2="316.8" stroke="#111" stroke-width="1"/>
<text x="244.56" y="324.3" font-size="4.4" text-anchor="middle" font-weight="bold" fill="#666">4.</text>
<line x1="250.98" y1="315.1" x2="250.98" y2="316.8" stroke="#111" stroke-width="1"/>
<text x="250.98" y="324.3" font-size="4.4" text-anchor="middle" font-weight="bold" fill="#666">5.</text>
<line x1="257.4" y1="315.1" x2="257.4" y2="316.8" stroke="#111" stroke-width="1"/>
<text x="257.4" y="324.3" font-size="4.4" text-anchor="middle" font-weight="bold" fill="#666">6.</text>
<line x1="263.82" y1="315.1" x2="263.82" y2="316.8" stroke="#111" stroke-width="1"/>
<text x="263.82" y="324.3" font-size="4.4" text-anchor="middle" font-weight="bold" fill="#666">7.</text>
<line x1="270.24" y1="315.1" x2="270.24" y2="316.8" stroke="#111" stroke-width="1"/>
<text x="270.24" y="324.3" font-size="4.4" text-anchor="middle" font-weight="bold" fill="#666">8.</text>
<line x1="276.66" y1="315.1" x2="276.66" y2="316.8" stroke="#111" stroke-width="1"/>
<text x="276.66" y="324.3" font-size="4.4" text-anchor="middle" font-weight="bold" fill="#666">9</text>
<text x="250.5" y="332.9" font-size="5.6" text-anchor="middle" font-weight="bold" fill="#333" textLength="10.2" lengthAdjust="spacingAndGlyphs">Rank</text>
<text x="251.4" y="270.1" font-size="5.5" text-anchor="middle" font-weight="bold" fill="#222">BORT+mAB</text>
<rect x="258.9" y="280.7" width="12.6" height="9.6" fill="#fff" stroke="#8a2041" stroke-width="1.2"/>
<text x="265.2" y="287" font-size="4.5" text-anchor="middle" font-weight="bold" fill="#222">3.1</text>
<text x="0" y="0" font-size="5.9" font-weight="bold" text-anchor="middle" fill="#333" transform="translate(204.3 294.6) rotate(-90)" textLength="44.8" lengthAdjust="spacingAndGlyphs">Probability of rank (%)</text>
<rect x="48.7" y="384.69" width="4.7" height="3.81" fill="#a50d31"/>
<rect x="55.12" y="384.31" width="4.7" height="4.19" fill="#a50d31"/>
<rect x="61.54" y="382.4" width="4.7" height="6.1" fill="#a50d31"/>
<rect x="67.96" y="382.4" width="4.7" height="6.1" fill="#a50d31"/>
<rect x="74.38" y="382.79" width="4.7" height="5.71" fill="#a50d31"/>
<rect x="80.8" y="384.31" width="4.7" height="4.19" fill="#a50d31"/>
<rect x="87.22" y="385.45" width="4.7" height="3.05" fill="#a50d31"/>
<rect x="93.64" y="385.07" width="4.7" height="3.43" fill="#a50d31"/>
<rect x="100.06" y="387.36" width="4.7" height="1.14" fill="#a50d31"/>
<line x1="47.85" y1="347.3" x2="47.85" y2="389.1" stroke="#111" stroke-width="1.4"/>
<line x1="46.15" y1="388.5" x2="47.85" y2="388.5" stroke="#111" stroke-width="1"/>
<text x="42.85" y="390.1" font-size="4.6" text-anchor="end" font-weight="bold" fill="#777">0</text>
<line x1="46.15" y1="380.88" x2="47.85" y2="380.88" stroke="#111" stroke-width="1"/>
<text x="42.85" y="382.48" font-size="4.6" text-anchor="end" font-weight="bold" fill="#777">20</text>
<line x1="46.15" y1="373.26" x2="47.85" y2="373.26" stroke="#111" stroke-width="1"/>
<text x="42.85" y="374.86" font-size="4.6" text-anchor="end" font-weight="bold" fill="#777">40</text>
<line x1="46.15" y1="365.64" x2="47.85" y2="365.64" stroke="#111" stroke-width="1"/>
<text x="42.85" y="367.24" font-size="4.6" text-anchor="end" font-weight="bold" fill="#777">60</text>
<line x1="46.15" y1="358.02" x2="47.85" y2="358.02" stroke="#111" stroke-width="1"/>
<text x="42.85" y="359.62" font-size="4.6" text-anchor="end" font-weight="bold" fill="#777">80</text>
<line x1="46.15" y1="350.4" x2="47.85" y2="350.4" stroke="#111" stroke-width="1"/>
<text x="42.85" y="352" font-size="4.6" text-anchor="end" font-weight="bold" fill="#777">100</text>
<line x1="47.35" y1="388.5" x2="106.35" y2="388.5" stroke="#111" stroke-width="1.3"/>
<line x1="51.05" y1="388.5" x2="51.05" y2="390.2" stroke="#111" stroke-width="1"/>
<text x="51.05" y="397.7" font-size="4.4" text-anchor="middle" font-weight="bold" fill="#666">1.</text>
<line x1="57.47" y1="388.5" x2="57.47" y2="390.2" stroke="#111" stroke-width="1"/>
<text x="57.47" y="397.7" font-size="4.4" text-anchor="middle" font-weight="bold" fill="#666">2.</text>
<line x1="63.89" y1="388.5" x2="63.89" y2="390.2" stroke="#111" stroke-width="1"/>
<text x="63.89" y="397.7" font-size="4.4" text-anchor="middle" font-weight="bold" fill="#666">3.</text>
<line x1="70.31" y1="388.5" x2="70.31" y2="390.2" stroke="#111" stroke-width="1"/>
<text x="70.31" y="397.7" font-size="4.4" text-anchor="middle" font-weight="bold" fill="#666">4.</text>
<line x1="76.73" y1="388.5" x2="76.73" y2="390.2" stroke="#111" stroke-width="1"/>
<text x="76.73" y="397.7" font-size="4.4" text-anchor="middle" font-weight="bold" fill="#666">5.</text>
<line x1="83.15" y1="388.5" x2="83.15" y2="390.2" stroke="#111" stroke-width="1"/>
<text x="83.15" y="397.7" font-size="4.4" text-anchor="middle" font-weight="bold" fill="#666">6.</text>
<line x1="89.57" y1="388.5" x2="89.57" y2="390.2" stroke="#111" stroke-width="1"/>
<text x="89.57" y="397.7" font-size="4.4" text-anchor="middle" font-weight="bold" fill="#666">7.</text>
<line x1="95.99" y1="388.5" x2="95.99" y2="390.2" stroke="#111" stroke-width="1"/>
<text x="95.99" y="397.7" font-size="4.4" text-anchor="middle" font-weight="bold" fill="#666">8.</text>
<line x1="102.41" y1="388.5" x2="102.41" y2="390.2" stroke="#111" stroke-width="1"/>
<text x="102.41" y="397.7" font-size="4.4" text-anchor="middle" font-weight="bold" fill="#666">9</text>
<text x="76.25" y="406.3" font-size="5.6" text-anchor="middle" font-weight="bold" fill="#333" textLength="10.2" lengthAdjust="spacingAndGlyphs">Rank</text>
<text x="77.15" y="343.5" font-size="5.5" text-anchor="middle" font-weight="bold" fill="#222">CARF</text>
<rect x="84.65" y="354.1" width="12.6" height="9.6" fill="#fff" stroke="#8a2041" stroke-width="1.2"/>
<text x="90.95" y="360.4" font-size="4.5" text-anchor="middle" font-weight="bold" fill="#222">4.5</text>
<text x="0" y="0" font-size="5.9" font-weight="bold" text-anchor="middle" fill="#333" transform="translate(30.05 368) rotate(-90)" textLength="44.8" lengthAdjust="spacingAndGlyphs">Probability of rank (%)</text>
<rect x="142.42" y="388.31" width="4.7" height="0.19" fill="#a50d31"/>
<rect x="148.84" y="383.17" width="4.7" height="5.33" fill="#a50d31"/>
<rect x="155.26" y="380.12" width="4.7" height="8.38" fill="#a50d31"/>
<rect x="161.68" y="379.36" width="4.7" height="9.14" fill="#a50d31"/>
<rect x="168.1" y="381.26" width="4.7" height="7.24" fill="#a50d31"/>
<rect x="174.52" y="383.93" width="4.7" height="4.57" fill="#a50d31"/>
<rect x="180.94" y="383.93" width="4.7" height="4.57" fill="#a50d31"/>
<rect x="187.36" y="388.35" width="4.7" height="0.15" fill="#a50d31"/>
<line x1="135.15" y1="347.3" x2="135.15" y2="389.1" stroke="#111" stroke-width="1.4"/>
<line x1="133.45" y1="388.5" x2="135.15" y2="388.5" stroke="#111" stroke-width="1"/>
<text x="130.15" y="390.1" font-size="4.6" text-anchor="end" font-weight="bold" fill="#777">0</text>
<line x1="133.45" y1="380.88" x2="135.15" y2="380.88" stroke="#111" stroke-width="1"/>
<text x="130.15" y="382.48" font-size="4.6" text-anchor="end" font-weight="bold" fill="#777">20</text>
<line x1="133.45" y1="373.26" x2="135.15" y2="373.26" stroke="#111" stroke-width="1"/>
<text x="130.15" y="374.86" font-size="4.6" text-anchor="end" font-weight="bold" fill="#777">40</text>
<line x1="133.45" y1="365.64" x2="135.15" y2="365.64" stroke="#111" stroke-width="1"/>
<text x="130.15" y="367.24" font-size="4.6" text-anchor="end" font-weight="bold" fill="#777">60</text>
<line x1="133.45" y1="358.02" x2="135.15" y2="358.02" stroke="#111" stroke-width="1"/>
<text x="130.15" y="359.62" font-size="4.6" text-anchor="end" font-weight="bold" fill="#777">80</text>
<line x1="133.45" y1="350.4" x2="135.15" y2="350.4" stroke="#111" stroke-width="1"/>
<text x="130.15" y="352" font-size="4.6" text-anchor="end" font-weight="bold" fill="#777">100</text>
<line x1="134.65" y1="388.5" x2="193.65" y2="388.5" stroke="#111" stroke-width="1.3"/>
<line x1="138.35" y1="388.5" x2="138.35" y2="390.2" stroke="#111" stroke-width="1"/>
<text x="138.35" y="397.7" font-size="4.4" text-anchor="middle" font-weight="bold" fill="#666">1.</text>
<line x1="144.77" y1="388.5" x2="144.77" y2="390.2" stroke="#111" stroke-width="1"/>
<text x="144.77" y="397.7" font-size="4.4" text-anchor="middle" font-weight="bold" fill="#666">2.</text>
<line x1="151.19" y1="388.5" x2="151.19" y2="390.2" stroke="#111" stroke-width="1"/>
<text x="151.19" y="397.7" font-size="4.4" text-anchor="middle" font-weight="bold" fill="#666">3.</text>
<line x1="157.61" y1="388.5" x2="157.61" y2="390.2" stroke="#111" stroke-width="1"/>
<text x="157.61" y="397.7" font-size="4.4" text-anchor="middle" font-weight="bold" fill="#666">4.</text>
<line x1="164.03" y1="388.5" x2="164.03" y2="390.2" stroke="#111" stroke-width="1"/>
<text x="164.03" y="397.7" font-size="4.4" text-anchor="middle" font-weight="bold" fill="#666">5.</text>
<line x1="170.45" y1="388.5" x2="170.45" y2="390.2" stroke="#111" stroke-width="1"/>
<text x="170.45" y="397.7" font-size="4.4" text-anchor="middle" font-weight="bold" fill="#666">6.</text>
<line x1="176.87" y1="388.5" x2="176.87" y2="390.2" stroke="#111" stroke-width="1"/>
<text x="176.87" y="397.7" font-size="4.4" text-anchor="middle" font-weight="bold" fill="#666">7.</text>
<line x1="183.29" y1="388.5" x2="183.29" y2="390.2" stroke="#111" stroke-width="1"/>
<text x="183.29" y="397.7" font-size="4.4" text-anchor="middle" font-weight="bold" fill="#666">8.</text>
<line x1="189.71" y1="388.5" x2="189.71" y2="390.2" stroke="#111" stroke-width="1"/>
<text x="189.71" y="397.7" font-size="4.4" text-anchor="middle" font-weight="bold" fill="#666">9</text>
<text x="163.55" y="406.3" font-size="5.6" text-anchor="middle" font-weight="bold" fill="#333" textLength="10.2" lengthAdjust="spacingAndGlyphs">Rank</text>
<text x="164.45" y="343.5" font-size="5.5" text-anchor="middle" font-weight="bold" fill="#222">IMIDs</text>
<rect x="171.95" y="354.1" width="12.6" height="9.6" fill="#fff" stroke="#8a2041" stroke-width="1.2"/>
<text x="178.25" y="360.4" font-size="4.5" text-anchor="middle" font-weight="bold" fill="#222">5.2</text>
<text x="0" y="0" font-size="5.9" font-weight="bold" text-anchor="middle" fill="#333" transform="translate(117.35 368) rotate(-90)" textLength="44.8" lengthAdjust="spacingAndGlyphs">Probability of rank (%)</text>
<rect x="222.95" y="387.74" width="4.7" height="0.76" fill="#a50d31"/>
<rect x="229.37" y="386.21" width="4.7" height="2.29" fill="#a50d31"/>
<rect x="235.79" y="384.69" width="4.7" height="3.81" fill="#a50d31"/>
<rect x="242.21" y="383.17" width="4.7" height="5.33" fill="#a50d31"/>
<rect x="248.63" y="380.88" width="4.7" height="7.62" fill="#a50d31"/>
<rect x="255.05" y="380.88" width="4.7" height="7.62" fill="#a50d31"/>
<rect x="261.47" y="383.93" width="4.7" height="4.57" fill="#a50d31"/>
<rect x="267.89" y="383.93" width="4.7" height="4.57" fill="#a50d31"/>
<rect x="274.31" y="387.36" width="4.7" height="1.14" fill="#a50d31"/>
<line x1="222.1" y1="347.3" x2="222.1" y2="389.1" stroke="#111" stroke-width="1.4"/>
<line x1="220.4" y1="388.5" x2="222.1" y2="388.5" stroke="#111" stroke-width="1"/>
<text x="217.1" y="390.1" font-size="4.6" text-anchor="end" font-weight="bold" fill="#777">0</text>
<line x1="220.4" y1="380.88" x2="222.1" y2="380.88" stroke="#111" stroke-width="1"/>
<text x="217.1" y="382.48" font-size="4.6" text-anchor="end" font-weight="bold" fill="#777">20</text>
<line x1="220.4" y1="373.26" x2="222.1" y2="373.26" stroke="#111" stroke-width="1"/>
<text x="217.1" y="374.86" font-size="4.6" text-anchor="end" font-weight="bold" fill="#777">40</text>
<line x1="220.4" y1="365.64" x2="222.1" y2="365.64" stroke="#111" stroke-width="1"/>
<text x="217.1" y="367.24" font-size="4.6" text-anchor="end" font-weight="bold" fill="#777">60</text>
<line x1="220.4" y1="358.02" x2="222.1" y2="358.02" stroke="#111" stroke-width="1"/>
<text x="217.1" y="359.62" font-size="4.6" text-anchor="end" font-weight="bold" fill="#777">80</text>
<line x1="220.4" y1="350.4" x2="222.1" y2="350.4" stroke="#111" stroke-width="1"/>
<text x="217.1" y="352" font-size="4.6" text-anchor="end" font-weight="bold" fill="#777">100</text>
<line x1="221.6" y1="388.5" x2="280.6" y2="388.5" stroke="#111" stroke-width="1.3"/>
<line x1="225.3" y1="388.5" x2="225.3" y2="390.2" stroke="#111" stroke-width="1"/>
<text x="225.3" y="397.7" font-size="4.4" text-anchor="middle" font-weight="bold" fill="#666">1.</text>
<line x1="231.72" y1="388.5" x2="231.72" y2="390.2" stroke="#111" stroke-width="1"/>
<text x="231.72" y="397.7" font-size="4.4" text-anchor="middle" font-weight="bold" fill="#666">2.</text>
<line x1="238.14" y1="388.5" x2="238.14" y2="390.2" stroke="#111" stroke-width="1"/>
<text x="238.14" y="397.7" font-size="4.4" text-anchor="middle" font-weight="bold" fill="#666">3.</text>
<line x1="244.56" y1="388.5" x2="244.56" y2="390.2" stroke="#111" stroke-width="1"/>
<text x="244.56" y="397.7" font-size="4.4" text-anchor="middle" font-weight="bold" fill="#666">4.</text>
<line x1="250.98" y1="388.5" x2="250.98" y2="390.2" stroke="#111" stroke-width="1"/>
<text x="250.98" y="397.7" font-size="4.4" text-anchor="middle" font-weight="bold" fill="#666">5.</text>
<line x1="257.4" y1="388.5" x2="257.4" y2="390.2" stroke="#111" stroke-width="1"/>
<text x="257.4" y="397.7" font-size="4.4" text-anchor="middle" font-weight="bold" fill="#666">6.</text>
<line x1="263.82" y1="388.5" x2="263.82" y2="390.2" stroke="#111" stroke-width="1"/>
<text x="263.82" y="397.7" font-size="4.4" text-anchor="middle" font-weight="bold" fill="#666">7.</text>
<line x1="270.24" y1="388.5" x2="270.24" y2="390.2" stroke="#111" stroke-width="1"/>
<text x="270.24" y="397.7" font-size="4.4" text-anchor="middle" font-weight="bold" fill="#666">8.</text>
<line x1="276.66" y1="388.5" x2="276.66" y2="390.2" stroke="#111" stroke-width="1"/>
<text x="276.66" y="397.7" font-size="4.4" text-anchor="middle" font-weight="bold" fill="#666">9</text>
<text x="250.5" y="406.3" font-size="5.6" text-anchor="middle" font-weight="bold" fill="#333" textLength="10.2" lengthAdjust="spacingAndGlyphs">Rank</text>
<text x="251.4" y="343.5" font-size="5.5" text-anchor="middle" font-weight="bold" fill="#222">BORT+HDAC</text>
<rect x="258.9" y="354.1" width="12.6" height="9.6" fill="#fff" stroke="#8a2041" stroke-width="1.2"/>
<text x="265.2" y="360.4" font-size="4.5" text-anchor="middle" font-weight="bold" fill="#222">5.4</text>
<text x="0" y="0" font-size="5.9" font-weight="bold" text-anchor="middle" fill="#333" transform="translate(204.3 368) rotate(-90)" textLength="44.8" lengthAdjust="spacingAndGlyphs">Probability of rank (%)</text>
<rect x="48.7" y="461.51" width="4.7" height="0.19" fill="#a50d31"/>
<rect x="55.12" y="461.32" width="4.7" height="0.38" fill="#a50d31"/>
<rect x="61.54" y="460.56" width="4.7" height="1.14" fill="#a50d31"/>
<rect x="67.96" y="458.27" width="4.7" height="3.43" fill="#a50d31"/>
<rect x="74.38" y="455.99" width="4.7" height="5.71" fill="#a50d31"/>
<rect x="80.8" y="453.32" width="4.7" height="8.38" fill="#a50d31"/>
<rect x="87.22" y="453.32" width="4.7" height="8.38" fill="#a50d31"/>
<rect x="93.64" y="453.32" width="4.7" height="8.38" fill="#a50d31"/>
<rect x="100.06" y="459.41" width="4.7" height="2.29" fill="#a50d31"/>
<line x1="47.85" y1="420.5" x2="47.85" y2="462.3" stroke="#111" stroke-width="1.4"/>
<line x1="46.15" y1="461.7" x2="47.85" y2="461.7" stroke="#111" stroke-width="1"/>
<text x="42.85" y="463.3" font-size="4.6" text-anchor="end" font-weight="bold" fill="#777">0</text>
<line x1="46.15" y1="454.08" x2="47.85" y2="454.08" stroke="#111" stroke-width="1"/>
<text x="42.85" y="455.68" font-size="4.6" text-anchor="end" font-weight="bold" fill="#777">20</text>
<line x1="46.15" y1="446.46" x2="47.85" y2="446.46" stroke="#111" stroke-width="1"/>
<text x="42.85" y="448.06" font-size="4.6" text-anchor="end" font-weight="bold" fill="#777">40</text>
<line x1="46.15" y1="438.84" x2="47.85" y2="438.84" stroke="#111" stroke-width="1"/>
<text x="42.85" y="440.44" font-size="4.6" text-anchor="end" font-weight="bold" fill="#777">60</text>
<line x1="46.15" y1="431.22" x2="47.85" y2="431.22" stroke="#111" stroke-width="1"/>
<text x="42.85" y="432.82" font-size="4.6" text-anchor="end" font-weight="bold" fill="#777">80</text>
<line x1="46.15" y1="423.6" x2="47.85" y2="423.6" stroke="#111" stroke-width="1"/>
<text x="42.85" y="425.2" font-size="4.6" text-anchor="end" font-weight="bold" fill="#777">100</text>
<line x1="47.35" y1="461.7" x2="106.35" y2="461.7" stroke="#111" stroke-width="1.3"/>
<line x1="51.05" y1="461.7" x2="51.05" y2="463.4" stroke="#111" stroke-width="1"/>
<text x="51.05" y="470.9" font-size="4.4" text-anchor="middle" font-weight="bold" fill="#666">1.</text>
<line x1="57.47" y1="461.7" x2="57.47" y2="463.4" stroke="#111" stroke-width="1"/>
<text x="57.47" y="470.9" font-size="4.4" text-anchor="middle" font-weight="bold" fill="#666">2.</text>
<line x1="63.89" y1="461.7" x2="63.89" y2="463.4" stroke="#111" stroke-width="1"/>
<text x="63.89" y="470.9" font-size="4.4" text-anchor="middle" font-weight="bold" fill="#666">3.</text>
<line x1="70.31" y1="461.7" x2="70.31" y2="463.4" stroke="#111" stroke-width="1"/>
<text x="70.31" y="470.9" font-size="4.4" text-anchor="middle" font-weight="bold" fill="#666">4.</text>
<line x1="76.73" y1="461.7" x2="76.73" y2="463.4" stroke="#111" stroke-width="1"/>
<text x="76.73" y="470.9" font-size="4.4" text-anchor="middle" font-weight="bold" fill="#666">5.</text>
<line x1="83.15" y1="461.7" x2="83.15" y2="463.4" stroke="#111" stroke-width="1"/>
<text x="83.15" y="470.9" font-size="4.4" text-anchor="middle" font-weight="bold" fill="#666">6.</text>
<line x1="89.57" y1="461.7" x2="89.57" y2="463.4" stroke="#111" stroke-width="1"/>
<text x="89.57" y="470.9" font-size="4.4" text-anchor="middle" font-weight="bold" fill="#666">7.</text>
<line x1="95.99" y1="461.7" x2="95.99" y2="463.4" stroke="#111" stroke-width="1"/>
<text x="95.99" y="470.9" font-size="4.4" text-anchor="middle" font-weight="bold" fill="#666">8.</text>
<line x1="102.41" y1="461.7" x2="102.41" y2="463.4" stroke="#111" stroke-width="1"/>
<text x="102.41" y="470.9" font-size="4.4" text-anchor="middle" font-weight="bold" fill="#666">9</text>
<text x="76.25" y="479.5" font-size="5.6" text-anchor="middle" font-weight="bold" fill="#333" textLength="10.2" lengthAdjust="spacingAndGlyphs">Rank</text>
<text x="77.15" y="416.7" font-size="5.5" text-anchor="middle" font-weight="bold" fill="#222">BORT+OTHERS</text>
<rect x="84.65" y="427.3" width="12.6" height="9.6" fill="#fff" stroke="#8a2041" stroke-width="1.2"/>
<text x="90.95" y="433.6" font-size="4.5" text-anchor="middle" font-weight="bold" fill="#222">6.2</text>
<text x="0" y="0" font-size="5.9" font-weight="bold" text-anchor="middle" fill="#333" transform="translate(30.05 441.2) rotate(-90)" textLength="44.8" lengthAdjust="spacingAndGlyphs">Probability of rank (%)</text>
<rect x="161.68" y="459.8" width="4.7" height="1.91" fill="#a50d31"/>
<rect x="168.1" y="454.84" width="4.7" height="6.86" fill="#a50d31"/>
<rect x="174.52" y="446.46" width="4.7" height="15.24" fill="#a50d31"/>
<rect x="180.94" y="447.98" width="4.7" height="13.72" fill="#a50d31"/>
<rect x="187.36" y="460.94" width="4.7" height="0.76" fill="#a50d31"/>
<line x1="135.15" y1="420.5" x2="135.15" y2="462.3" stroke="#111" stroke-width="1.4"/>
<line x1="133.45" y1="461.7" x2="135.15" y2="461.7" stroke="#111" stroke-width="1"/>
<text x="130.15" y="463.3" font-size="4.6" text-anchor="end" font-weight="bold" fill="#777">0</text>
<line x1="133.45" y1="454.08" x2="135.15" y2="454.08" stroke="#111" stroke-width="1"/>
<text x="130.15" y="455.68" font-size="4.6" text-anchor="end" font-weight="bold" fill="#777">20</text>
<line x1="133.45" y1="446.46" x2="135.15" y2="446.46" stroke="#111" stroke-width="1"/>
<text x="130.15" y="448.06" font-size="4.6" text-anchor="end" font-weight="bold" fill="#777">40</text>
<line x1="133.45" y1="438.84" x2="135.15" y2="438.84" stroke="#111" stroke-width="1"/>
<text x="130.15" y="440.44" font-size="4.6" text-anchor="end" font-weight="bold" fill="#777">60</text>
<line x1="133.45" y1="431.22" x2="135.15" y2="431.22" stroke="#111" stroke-width="1"/>
<text x="130.15" y="432.82" font-size="4.6" text-anchor="end" font-weight="bold" fill="#777">80</text>
<line x1="133.45" y1="423.6" x2="135.15" y2="423.6" stroke="#111" stroke-width="1"/>
<text x="130.15" y="425.2" font-size="4.6" text-anchor="end" font-weight="bold" fill="#777">100</text>
<line x1="134.65" y1="461.7" x2="193.65" y2="461.7" stroke="#111" stroke-width="1.3"/>
<line x1="138.35" y1="461.7" x2="138.35" y2="463.4" stroke="#111" stroke-width="1"/>
<text x="138.35" y="470.9" font-size="4.4" text-anchor="middle" font-weight="bold" fill="#666">1.</text>
<line x1="144.77" y1="461.7" x2="144.77" y2="463.4" stroke="#111" stroke-width="1"/>
<text x="144.77" y="470.9" font-size="4.4" text-anchor="middle" font-weight="bold" fill="#666">2.</text>
<line x1="151.19" y1="461.7" x2="151.19" y2="463.4" stroke="#111" stroke-width="1"/>
<text x="151.19" y="470.9" font-size="4.4" text-anchor="middle" font-weight="bold" fill="#666">3.</text>
<line x1="157.61" y1="461.7" x2="157.61" y2="463.4" stroke="#111" stroke-width="1"/>
<text x="157.61" y="470.9" font-size="4.4" text-anchor="middle" font-weight="bold" fill="#666">4.</text>
<line x1="164.03" y1="461.7" x2="164.03" y2="463.4" stroke="#111" stroke-width="1"/>
<text x="164.03" y="470.9" font-size="4.4" text-anchor="middle" font-weight="bold" fill="#666">5.</text>
<line x1="170.45" y1="461.7" x2="170.45" y2="463.4" stroke="#111" stroke-width="1"/>
<text x="170.45" y="470.9" font-size="4.4" text-anchor="middle" font-weight="bold" fill="#666">6.</text>
<line x1="176.87" y1="461.7" x2="176.87" y2="463.4" stroke="#111" stroke-width="1"/>
<text x="176.87" y="470.9" font-size="4.4" text-anchor="middle" font-weight="bold" fill="#666">7.</text>
<line x1="183.29" y1="461.7" x2="183.29" y2="463.4" stroke="#111" stroke-width="1"/>
<text x="183.29" y="470.9" font-size="4.4" text-anchor="middle" font-weight="bold" fill="#666">8.</text>
<line x1="189.71" y1="461.7" x2="189.71" y2="463.4" stroke="#111" stroke-width="1"/>
<text x="189.71" y="470.9" font-size="4.4" text-anchor="middle" font-weight="bold" fill="#666">9</text>
<text x="163.55" y="479.5" font-size="5.6" text-anchor="middle" font-weight="bold" fill="#333" textLength="10.2" lengthAdjust="spacingAndGlyphs">Rank</text>
<text x="164.45" y="416.7" font-size="5.5" text-anchor="middle" font-weight="bold" fill="#222">BORT</text>
<rect x="171.95" y="427.3" width="12.6" height="9.6" fill="#fff" stroke="#8a2041" stroke-width="1.2"/>
<text x="178.25" y="433.6" font-size="4.5" text-anchor="middle" font-weight="bold" fill="#222">7.1</text>
<text x="0" y="0" font-size="5.9" font-weight="bold" text-anchor="middle" fill="#333" transform="translate(117.35 441.2) rotate(-90)" textLength="44.8" lengthAdjust="spacingAndGlyphs">Probability of rank (%)</text>
<rect x="255.05" y="461.51" width="4.7" height="0.19" fill="#a50d31"/>
<rect x="261.47" y="460.18" width="4.7" height="1.52" fill="#a50d31"/>
<rect x="267.89" y="458.27" width="4.7" height="3.43" fill="#a50d31"/>
<rect x="274.31" y="429.7" width="4.7" height="32" fill="#a50d31"/>
<line x1="222.1" y1="420.5" x2="222.1" y2="462.3" stroke="#111" stroke-width="1.4"/>
<line x1="220.4" y1="461.7" x2="222.1" y2="461.7" stroke="#111" stroke-width="1"/>
<text x="217.1" y="463.3" font-size="4.6" text-anchor="end" font-weight="bold" fill="#777">0</text>
<line x1="220.4" y1="454.08" x2="222.1" y2="454.08" stroke="#111" stroke-width="1"/>
<text x="217.1" y="455.68" font-size="4.6" text-anchor="end" font-weight="bold" fill="#777">20</text>
<line x1="220.4" y1="446.46" x2="222.1" y2="446.46" stroke="#111" stroke-width="1"/>
<text x="217.1" y="448.06" font-size="4.6" text-anchor="end" font-weight="bold" fill="#777">40</text>
<line x1="220.4" y1="438.84" x2="222.1" y2="438.84" stroke="#111" stroke-width="1"/>
<text x="217.1" y="440.44" font-size="4.6" text-anchor="end" font-weight="bold" fill="#777">60</text>
<line x1="220.4" y1="431.22" x2="222.1" y2="431.22" stroke="#111" stroke-width="1"/>
<text x="217.1" y="432.82" font-size="4.6" text-anchor="end" font-weight="bold" fill="#777">80</text>
<line x1="220.4" y1="423.6" x2="222.1" y2="423.6" stroke="#111" stroke-width="1"/>
<text x="217.1" y="425.2" font-size="4.6" text-anchor="end" font-weight="bold" fill="#777">100</text>
<line x1="221.6" y1="461.7" x2="280.6" y2="461.7" stroke="#111" stroke-width="1.3"/>
<line x1="225.3" y1="461.7" x2="225.3" y2="463.4" stroke="#111" stroke-width="1"/>
<text x="225.3" y="470.9" font-size="4.4" text-anchor="middle" font-weight="bold" fill="#666">1.</text>
<line x1="231.72" y1="461.7" x2="231.72" y2="463.4" stroke="#111" stroke-width="1"/>
<text x="231.72" y="470.9" font-size="4.4" text-anchor="middle" font-weight="bold" fill="#666">2.</text>
<line x1="238.14" y1="461.7" x2="238.14" y2="463.4" stroke="#111" stroke-width="1"/>
<text x="238.14" y="470.9" font-size="4.4" text-anchor="middle" font-weight="bold" fill="#666">3.</text>
<line x1="244.56" y1="461.7" x2="244.56" y2="463.4" stroke="#111" stroke-width="1"/>
<text x="244.56" y="470.9" font-size="4.4" text-anchor="middle" font-weight="bold" fill="#666">4.</text>
<line x1="250.98" y1="461.7" x2="250.98" y2="463.4" stroke="#111" stroke-width="1"/>
<text x="250.98" y="470.9" font-size="4.4" text-anchor="middle" font-weight="bold" fill="#666">5.</text>
<line x1="257.4" y1="461.7" x2="257.4" y2="463.4" stroke="#111" stroke-width="1"/>
<text x="257.4" y="470.9" font-size="4.4" text-anchor="middle" font-weight="bold" fill="#666">6.</text>
<line x1="263.82" y1="461.7" x2="263.82" y2="463.4" stroke="#111" stroke-width="1"/>
<text x="263.82" y="470.9" font-size="4.4" text-anchor="middle" font-weight="bold" fill="#666">7.</text>
<line x1="270.24" y1="461.7" x2="270.24" y2="463.4" stroke="#111" stroke-width="1"/>
<text x="270.24" y="470.9" font-size="4.4" text-anchor="middle" font-weight="bold" fill="#666">8.</text>
<line x1="276.66" y1="461.7" x2="276.66" y2="463.4" stroke="#111" stroke-width="1"/>
<text x="276.66" y="470.9" font-size="4.4" text-anchor="middle" font-weight="bold" fill="#666">9</text>
<text x="250.5" y="479.5" font-size="5.6" text-anchor="middle" font-weight="bold" fill="#333" textLength="10.2" lengthAdjust="spacingAndGlyphs">Rank</text>
<text x="251.4" y="416.7" font-size="5.5" text-anchor="middle" font-weight="bold" fill="#222">DEX</text>
<rect x="258.9" y="427.3" width="12.6" height="9.6" fill="#fff" stroke="#8a2041" stroke-width="1.2"/>
<text x="265.2" y="433.6" font-size="4.5" text-anchor="middle" font-weight="bold" fill="#222">8.8</text>
<text x="0" y="0" font-size="5.9" font-weight="bold" text-anchor="middle" fill="#333" transform="translate(204.3 441.2) rotate(-90)" textLength="44.8" lengthAdjust="spacingAndGlyphs">Probability of rank (%)</text>
<text x="7.2" y="16.9" font-size="11.6" text-anchor="start" font-weight="bold" fill="#000" stroke="#000" stroke-width="0.35">A</text>
<text x="7.3" y="266.1" font-size="11.6" text-anchor="start" font-weight="bold" fill="#000" stroke="#000" stroke-width="0.35">C</text>
<text x="13.8" y="241.2" font-size="9.5" text-anchor="start" fill="#222" textLength="18.1" lengthAdjust="spacingAndGlyphs">PFS</text>
<text x="13.8" y="489.8" font-size="9.5" text-anchor="start" fill="#222" textLength="14.3" lengthAdjust="spacingAndGlyphs">OS</text>
<text x="296.2" y="17" font-size="11.6" text-anchor="start" font-weight="bold" fill="#000" stroke="#000" stroke-width="0.35">B</text>
<text x="415.6" y="32.8" font-size="9.35" text-anchor="middle" fill="#222" textLength="172" lengthAdjust="spacingAndGlyphs">cumulative probability of being among the</text>
<text x="414.7" y="45" font-size="9.35" text-anchor="middle" fill="#222" textLength="72" lengthAdjust="spacingAndGlyphs">k best treatments</text>
<line x1="329.9" y1="50.6" x2="329.9" y2="165.1" stroke="#111" stroke-width="1.2"/>
<line x1="329.3" y1="164.5" x2="500.44" y2="164.5" stroke="#111" stroke-width="1.2"/>
<line x1="327.3" y1="164.5" x2="329.9" y2="164.5" stroke="#111" stroke-width="1"/>
<text x="324.5" y="167.5" font-size="8.5" text-anchor="end" fill="#333">0</text>
<line x1="327.3" y1="142.08" x2="329.9" y2="142.08" stroke="#111" stroke-width="1"/>
<text x="324.5" y="145.08" font-size="8.5" text-anchor="end" fill="#333">20</text>
<line x1="327.3" y1="119.66" x2="329.9" y2="119.66" stroke="#111" stroke-width="1"/>
<text x="324.5" y="122.66" font-size="8.5" text-anchor="end" fill="#333">40</text>
<line x1="327.3" y1="97.24" x2="329.9" y2="97.24" stroke="#111" stroke-width="1"/>
<text x="324.5" y="100.24" font-size="8.5" text-anchor="end" fill="#333">60</text>
<line x1="327.3" y1="74.82" x2="329.9" y2="74.82" stroke="#111" stroke-width="1"/>
<text x="324.5" y="77.82" font-size="8.5" text-anchor="end" fill="#333">80</text>
<line x1="327.3" y1="52.4" x2="329.9" y2="52.4" stroke="#111" stroke-width="1"/>
<text x="324.5" y="55.4" font-size="8.5" text-anchor="end" fill="#333">100</text>
<line x1="329.9" y1="164.5" x2="329.9" y2="167.1" stroke="#111" stroke-width="1"/>
<text x="329.9" y="178" font-size="8.3" text-anchor="middle" fill="#333">1</text>
<line x1="350.93" y1="164.5" x2="350.93" y2="167.1" stroke="#111" stroke-width="1"/>
<text x="350.93" y="178" font-size="8.3" text-anchor="middle" fill="#333">2</text>
<line x1="371.96" y1="164.5" x2="371.96" y2="167.1" stroke="#111" stroke-width="1"/>
<text x="371.96" y="178" font-size="8.3" text-anchor="middle" fill="#333">3</text>
<line x1="392.99" y1="164.5" x2="392.99" y2="167.1" stroke="#111" stroke-width="1"/>
<text x="392.99" y="178" font-size="8.3" text-anchor="middle" fill="#333">4</text>
<line x1="414.02" y1="164.5" x2="414.02" y2="167.1" stroke="#111" stroke-width="1"/>
<text x="414.02" y="178" font-size="8.3" text-anchor="middle" fill="#333">5</text>
<line x1="435.05" y1="164.5" x2="435.05" y2="167.1" stroke="#111" stroke-width="1"/>
<text x="435.05" y="178" font-size="8.3" text-anchor="middle" fill="#333">6</text>
<line x1="456.08" y1="164.5" x2="456.08" y2="167.1" stroke="#111" stroke-width="1"/>
<text x="456.08" y="178" font-size="8.3" text-anchor="middle" fill="#333">7</text>
<line x1="477.11" y1="164.5" x2="477.11" y2="167.1" stroke="#111" stroke-width="1"/>
<text x="477.11" y="178" font-size="8.3" text-anchor="middle" fill="#333">8</text>
<line x1="498.14" y1="164.5" x2="498.14" y2="167.1" stroke="#111" stroke-width="1"/>
<text x="498.14" y="178" font-size="8.3" text-anchor="middle" fill="#333">9</text>
<text x="414.62" y="190.8" font-size="8.4" text-anchor="middle" font-weight="bold" fill="#333" textLength="26.1" lengthAdjust="spacingAndGlyphs">Rank (k)</text>
<text x="0" y="0" font-size="8.7" font-weight="bold" text-anchor="middle" fill="#333" transform="translate(303.7 107.35) rotate(-90)" textLength="45.4" lengthAdjust="spacingAndGlyphs">Probability (%)</text>
<polyline points="329.9,164.5 350.93,164.5 371.96,164.5 392.99,164.5 414.02,164.5 435.05,164.5 456.08,164.5 477.11,164.5 498.14,52.4" fill="none" stroke="#2f5e55" stroke-width="1.6" stroke-linejoin="round"/>
<polyline points="329.9,163.83 350.93,160.02 371.96,150.94 392.99,130.09 414.02,100.6 435.05,70.9 456.08,55.76 477.11,52.4 498.14,52.4" fill="none" stroke="#84bde0" stroke-width="1.6" stroke-linejoin="round"/>
<polyline points="329.9,161.81 350.93,155.31 371.96,140.29 392.99,120.11 414.02,95 435.05,70 456.08,56.21 477.11,52.96 498.14,52.4" fill="none" stroke="#3a1f5c" stroke-width="1.6" stroke-linejoin="round"/>
<polyline points="329.9,157.77 350.93,138.16 371.96,116.3 392.99,90.51 414.02,71.91 435.05,56.88 456.08,53.52 477.11,52.4 498.14,52.4" fill="none" stroke="#e3a53a" stroke-width="1.6" stroke-linejoin="round"/>
<polyline points="329.9,135.35 350.93,111.81 371.96,91.19 392.99,74.82 414.02,64.17 435.05,56.32 456.08,53.52 477.11,52.4 498.14,52.4" fill="none" stroke="#9a733c" stroke-width="1.6" stroke-linejoin="round"/>
<polyline points="329.9,164.5 350.93,164.5 371.96,164.5 392.99,164.5 414.02,164.16 435.05,157.21 456.08,123.02 477.11,52.4 498.14,52.4" fill="none" stroke="#b0123d" stroke-width="1.6" stroke-linejoin="round"/>
<polyline points="329.9,164.5 350.93,164.5 371.96,163.94 392.99,158.9 414.02,147.01 435.05,125.27 456.08,84.35 477.11,52.4 498.14,52.4" fill="none" stroke="#78ad52" stroke-width="1.6" stroke-linejoin="round"/>
<polyline points="329.9,110.69 350.93,84.35 371.96,68.99 392.99,60.36 414.02,55.76 435.05,53.86 456.08,52.96 477.11,52.4 498.14,52.4" fill="none" stroke="#c2187f" stroke-width="1.6" stroke-linejoin="round"/>
<polyline points="329.9,140.96 350.93,112.93 371.96,88.83 392.99,68.54 414.02,58.79 435.05,54.08 456.08,52.96 477.11,52.4 498.14,52.4" fill="none" stroke="#2b4a7c" stroke-width="1.6" stroke-linejoin="round"/>
<line x1="335.2" y1="200.4" x2="347.3" y2="200.4" stroke="#c2187f" stroke-width="1.5"/>
<text x="350.6" y="202.8" font-size="6.55" text-anchor="start" fill="#333">IMIDs+mAb</text>
<line x1="392.3" y1="200.4" x2="404.4" y2="200.4" stroke="#e3a53a" stroke-width="1.5"/>
<text x="407" y="202.8" font-size="6.55" text-anchor="start" fill="#333">PI+IMIDs</text>
<line x1="462.8" y1="200.4" x2="474.3" y2="200.4" stroke="#78ad52" stroke-width="1.5"/>
<text x="477.8" y="202.8" font-size="6.55" text-anchor="start" fill="#333">IMIDs</text>
<line x1="335.2" y1="210.5" x2="347.3" y2="210.5" stroke="#2b4a7c" stroke-width="1.5"/>
<text x="350.6" y="212.9" font-size="6.55" text-anchor="start" fill="#333">BORT+mAb</text>
<line x1="392.3" y1="210.5" x2="404.4" y2="210.5" stroke="#3a1f5c" stroke-width="1.5"/>
<text x="407" y="212.9" font-size="6.55" text-anchor="start" fill="#333">BORT+HDAC</text>
<line x1="462.8" y1="210.5" x2="474.3" y2="210.5" stroke="#b0123d" stroke-width="1.5"/>
<text x="477.8" y="212.9" font-size="6.55" text-anchor="start" fill="#333">BORT</text>
<line x1="335.2" y1="220.7" x2="347.3" y2="220.7" stroke="#9a733c" stroke-width="1.5"/>
<text x="350.6" y="223.1" font-size="6.55" text-anchor="start" fill="#333">CARF</text>
<line x1="392.3" y1="220.7" x2="404.4" y2="220.7" stroke="#84bde0" stroke-width="1.5"/>
<text x="407" y="223.1" font-size="6.55" text-anchor="start" fill="#333">BORT+OTHERS</text>
<line x1="462.8" y1="220.7" x2="474.3" y2="220.7" stroke="#2f5e55" stroke-width="1.5"/>
<text x="477.8" y="223.1" font-size="6.55" text-anchor="start" fill="#333">DEX</text>
<text x="296.2" y="266" font-size="11.6" text-anchor="start" font-weight="bold" fill="#000" stroke="#000" stroke-width="0.35">D</text>
<text x="415.6" y="281.8" font-size="9.35" text-anchor="middle" fill="#222" textLength="172" lengthAdjust="spacingAndGlyphs">cumulative probability of being among the</text>
<text x="414.7" y="294" font-size="9.35" text-anchor="middle" fill="#222" textLength="72" lengthAdjust="spacingAndGlyphs">k best treatments</text>
<line x1="330.1" y1="299.7" x2="330.1" y2="413" stroke="#111" stroke-width="1.2"/>
<line x1="329.5" y1="412.4" x2="498.48" y2="412.4" stroke="#111" stroke-width="1.2"/>
<line x1="327.5" y1="412.4" x2="330.1" y2="412.4" stroke="#111" stroke-width="1"/>
<text x="324.7" y="415.4" font-size="8.5" text-anchor="end" fill="#333">0</text>
<line x1="327.5" y1="390.22" x2="330.1" y2="390.22" stroke="#111" stroke-width="1"/>
<text x="324.7" y="393.22" font-size="8.5" text-anchor="end" fill="#333">20</text>
<line x1="327.5" y1="368.04" x2="330.1" y2="368.04" stroke="#111" stroke-width="1"/>
<text x="324.7" y="371.04" font-size="8.5" text-anchor="end" fill="#333">40</text>
<line x1="327.5" y1="345.86" x2="330.1" y2="345.86" stroke="#111" stroke-width="1"/>
<text x="324.7" y="348.86" font-size="8.5" text-anchor="end" fill="#333">60</text>
<line x1="327.5" y1="323.68" x2="330.1" y2="323.68" stroke="#111" stroke-width="1"/>
<text x="324.7" y="326.68" font-size="8.5" text-anchor="end" fill="#333">80</text>
<line x1="327.5" y1="301.5" x2="330.1" y2="301.5" stroke="#111" stroke-width="1"/>
<text x="324.7" y="304.5" font-size="8.5" text-anchor="end" fill="#333">100</text>
<line x1="330.1" y1="412.4" x2="330.1" y2="415" stroke="#111" stroke-width="1"/>
<text x="330.1" y="425.9" font-size="8.3" text-anchor="middle" fill="#333">1</text>
<line x1="350.86" y1="412.4" x2="350.86" y2="415" stroke="#111" stroke-width="1"/>
<text x="350.86" y="425.9" font-size="8.3" text-anchor="middle" fill="#333">2</text>
<line x1="371.62" y1="412.4" x2="371.62" y2="415" stroke="#111" stroke-width="1"/>
<text x="371.62" y="425.9" font-size="8.3" text-anchor="middle" fill="#333">3</text>
<line x1="392.38" y1="412.4" x2="392.38" y2="415" stroke="#111" stroke-width="1"/>
<text x="392.38" y="425.9" font-size="8.3" text-anchor="middle" fill="#333">4</text>
<line x1="413.14" y1="412.4" x2="413.14" y2="415" stroke="#111" stroke-width="1"/>
<text x="413.14" y="425.9" font-size="8.3" text-anchor="middle" fill="#333">5</text>
<line x1="433.9" y1="412.4" x2="433.9" y2="415" stroke="#111" stroke-width="1"/>
<text x="433.9" y="425.9" font-size="8.3" text-anchor="middle" fill="#333">6</text>
<line x1="454.66" y1="412.4" x2="454.66" y2="415" stroke="#111" stroke-width="1"/>
<text x="454.66" y="425.9" font-size="8.3" text-anchor="middle" fill="#333">7</text>
<line x1="475.42" y1="412.4" x2="475.42" y2="415" stroke="#111" stroke-width="1"/>
<text x="475.42" y="425.9" font-size="8.3" text-anchor="middle" fill="#333">8</text>
<line x1="496.18" y1="412.4" x2="496.18" y2="415" stroke="#111" stroke-width="1"/>
<text x="496.18" y="425.9" font-size="8.3" text-anchor="middle" fill="#333">9</text>
<text x="413.74" y="438.7" font-size="8.4" text-anchor="middle" font-weight="bold" fill="#333" textLength="26.1" lengthAdjust="spacingAndGlyphs">Rank (k)</text>
<text x="0" y="0" font-size="8.7" font-weight="bold" text-anchor="middle" fill="#333" transform="translate(303.7 355.85) rotate(-90)" textLength="45.4" lengthAdjust="spacingAndGlyphs">Probability (%)</text>
<polyline points="330.1,412.4 350.86,412.4 371.62,412.4 392.38,412.4 413.14,411.85 433.9,409.07 454.66,404.64 475.42,395.43 496.18,301.5" fill="none" stroke="#2f5e55" stroke-width="1.6" stroke-linejoin="round"/>
<polyline points="330.1,412.4 350.86,411.29 371.62,405.75 392.38,395.76 413.14,379.13 433.9,355.84 454.66,332 475.42,305.38 496.18,301.5" fill="none" stroke="#84bde0" stroke-width="1.6" stroke-linejoin="round"/>
<polyline points="330.1,412.4 350.86,411.29 371.62,395.76 392.38,373.58 413.14,345.86 433.9,324.79 454.66,312.59 475.42,304.27 496.18,301.5" fill="none" stroke="#78ad52" stroke-width="1.6" stroke-linejoin="round"/>
<polyline points="330.1,409.29 350.86,403.53 371.62,392.99 392.38,376.91 413.14,353.62 433.9,331.44 454.66,317.03 475.42,304.83 496.18,301.5" fill="none" stroke="#3a1f5c" stroke-width="1.6" stroke-linejoin="round"/>
<polyline points="330.1,400.76 350.86,389.11 371.62,371.37 392.38,352.51 413.14,336.99 433.9,324.23 454.66,314.81 475.42,304.83 496.18,301.5" fill="none" stroke="#9a733c" stroke-width="1.6" stroke-linejoin="round"/>
<polyline points="330.1,412.4 350.86,412.4 371.62,412.4 392.38,411.29 413.14,406.08 433.9,387.45 454.66,345.31 475.42,304.49 496.18,301.5" fill="none" stroke="#b0123d" stroke-width="1.6" stroke-linejoin="round"/>
<polyline points="330.1,381.35 350.86,345.86 371.62,325.9 392.38,314.25 413.14,307.6 433.9,304.27 454.66,302.61 475.42,302.05 496.18,301.5" fill="none" stroke="#e3a53a" stroke-width="1.6" stroke-linejoin="round"/>
<polyline points="330.1,392.44 350.86,371.37 371.62,343.64 392.38,323.68 413.14,310.37 433.9,305.38 454.66,303.16 475.42,302.05 496.18,301.5" fill="none" stroke="#2b4a7c" stroke-width="1.6" stroke-linejoin="round"/>
<polyline points="330.1,363.05 350.86,333.11 371.62,318.13 392.38,309.26 413.14,305.27 433.9,303.72 454.66,302.61 475.42,301.5 496.18,301.5" fill="none" stroke="#c2187f" stroke-width="1.6" stroke-linejoin="round"/>
<line x1="322.7" y1="449.1" x2="334.6" y2="449.1" stroke="#c2187f" stroke-width="1.5"/>
<text x="338.5" y="451.5" font-size="6.55" text-anchor="start" fill="#333">IMIDs+mAb</text>
<line x1="379.3" y1="449.1" x2="391.4" y2="449.1" stroke="#9a733c" stroke-width="1.5"/>
<text x="394.9" y="451.5" font-size="6.55" text-anchor="start" fill="#333">CARF</text>
<line x1="442.1" y1="448.1" x2="454.2" y2="448.1" stroke="#84bde0" stroke-width="1.5"/>
<text x="456.9" y="450.5" font-size="6.55" text-anchor="start" fill="#333">BORT+OTHERS</text>
<line x1="322.7" y1="459.3" x2="334.6" y2="459.3" stroke="#e3a53a" stroke-width="1.5"/>
<text x="338.5" y="461.7" font-size="6.55" text-anchor="start" fill="#333">PI+IMIDs</text>
<line x1="379.3" y1="459.3" x2="391.4" y2="459.3" stroke="#78ad52" stroke-width="1.5"/>
<text x="394.9" y="461.7" font-size="6.55" text-anchor="start" fill="#333">IMIDs</text>
<line x1="442.1" y1="458.3" x2="454.2" y2="458.3" stroke="#b0123d" stroke-width="1.5"/>
<text x="456.9" y="460.7" font-size="6.55" text-anchor="start" fill="#333">BORT</text>
<line x1="322.7" y1="469.4" x2="334.6" y2="469.4" stroke="#2b4a7c" stroke-width="1.5"/>
<text x="338.5" y="471.8" font-size="6.55" text-anchor="start" fill="#333">BORT+mAb</text>
<line x1="379.3" y1="469.4" x2="391.4" y2="469.4" stroke="#3a1f5c" stroke-width="1.5"/>
<text x="394.9" y="471.8" font-size="6.55" text-anchor="start" fill="#333">BORT+HDAC</text>
<line x1="442.1" y1="468.4" x2="454.2" y2="468.4" stroke="#2f5e55" stroke-width="1.5"/>
<text x="456.9" y="470.8" font-size="6.55" text-anchor="start" fill="#333">DEX</text>
<text x="7.4" y="515" font-size="11.3" text-anchor="start" font-weight="bold" fill="#000" stroke="#000" stroke-width="0.35">E</text>
<text x="166.6" y="524.6" font-size="7.2" text-anchor="start" font-weight="bold" fill="#111">PFS</text>
<text x="209.2" y="524.6" font-size="7.2" text-anchor="start" font-weight="bold" fill="#111">OS</text>
<text x="252.2" y="524.6" font-size="7.2" text-anchor="start" font-weight="bold" fill="#111">ORR</text>
<text x="294.6" y="524.6" font-size="7.2" text-anchor="start" font-weight="bold" fill="#111">CR</text>
<text x="337.2" y="524.6" font-size="7.2" text-anchor="start" font-weight="bold" fill="#111">TOX</text>
<text x="380" y="524.6" font-size="7.2" text-anchor="start" font-weight="bold" fill="#111">average</text>
<text x="423.7" y="524.6" font-size="7.2" text-anchor="start" font-weight="bold" fill="#111" textLength="27" lengthAdjust="spacingAndGlyphs">ranking</text>
<rect x="166" y="527.3" width="42.35" height="10.18" fill="#58ae76"/>
<rect x="208.3" y="527.3" width="42.75" height="10.18" fill="#58ae76"/>
<rect x="251" y="527.3" width="42.85" height="10.18" fill="#58ae76"/>
<rect x="293.8" y="527.3" width="42.75" height="10.18" fill="#c2d17d"/>
<rect x="336.5" y="527.3" width="42.85" height="10.18" fill="#d0d67e"/>
<rect x="379.3" y="527.3" width="43.35" height="10.18" fill="#58ae76"/>
<rect x="166" y="537.43" width="42.35" height="10.18" fill="#e6dd7f"/>
<rect x="208.3" y="537.43" width="42.75" height="10.18" fill="#a5c77b"/>
<rect x="251" y="537.43" width="42.85" height="10.18" fill="#7bb978"/>
<rect x="293.8" y="537.43" width="42.75" height="10.18" fill="#58ae76"/>
<rect x="336.5" y="537.43" width="42.85" height="10.18" fill="#c1d17d"/>
<rect x="379.3" y="537.43" width="43.35" height="10.18" fill="#9dc57a"/>
<rect x="166" y="547.56" width="42.35" height="10.18" fill="#73b778"/>
<rect x="208.3" y="547.56" width="42.75" height="10.18" fill="#e5dd7f"/>
<rect x="251" y="547.56" width="42.85" height="10.18" fill="#7bb978"/>
<rect x="293.8" y="547.56" width="42.75" height="10.18" fill="#5aaf76"/>
<rect x="336.5" y="547.56" width="42.85" height="10.18" fill="#e9ab74"/>
<rect x="379.3" y="547.56" width="43.35" height="10.18" fill="#abca7b"/>
<rect x="166" y="557.69" width="42.35" height="10.18" fill="#cad47d"/>
<rect x="208.3" y="557.69" width="42.75" height="10.18" fill="#74b778"/>
<rect x="251" y="557.69" width="42.85" height="10.18" fill="#bed07d"/>
<rect x="293.8" y="557.69" width="42.75" height="10.18" fill="#d2d77e"/>
<rect x="336.5" y="557.69" width="42.85" height="10.18" fill="#f3da7e"/>
<rect x="379.3" y="557.69" width="43.35" height="10.18" fill="#bace7c"/>
<rect x="166" y="567.82" width="42.35" height="10.18" fill="#eade7f"/>
<rect x="208.3" y="567.82" width="42.75" height="10.18" fill="#9bc47a"/>
<rect x="251" y="567.82" width="42.85" height="10.18" fill="#d4d77e"/>
<rect x="293.8" y="567.82" width="42.75" height="10.18" fill="#e4956f"/>
<rect x="336.5" y="567.82" width="42.85" height="10.18" fill="#aac97b"/>
<rect x="379.3" y="567.82" width="43.35" height="10.18" fill="#deda7f"/>
<rect x="166" y="577.95" width="42.35" height="10.18" fill="#b9ce7c"/>
<rect x="208.3" y="577.95" width="42.75" height="10.18" fill="#f5e280"/>
<rect x="251" y="577.95" width="42.85" height="10.18" fill="#b1cb7c"/>
<rect x="293.8" y="577.95" width="42.75" height="10.18" fill="#8bbf79"/>
<rect x="336.5" y="577.95" width="42.85" height="10.18" fill="#e69d71"/>
<rect x="379.3" y="577.95" width="43.35" height="10.18" fill="#deda7f"/>
<rect x="166" y="588.08" width="42.35" height="10.18" fill="#f1ce7b"/>
<rect x="208.3" y="588.08" width="42.75" height="10.18" fill="#7fbb78"/>
<rect x="251" y="588.08" width="42.85" height="10.18" fill="#f2d57d"/>
<rect x="293.8" y="588.08" width="42.75" height="10.18" fill="#efc77a"/>
<rect x="336.5" y="588.08" width="42.85" height="10.18" fill="#c2d17d"/>
<rect x="379.3" y="588.08" width="43.35" height="10.18" fill="#e6dd7f"/>
<rect x="166" y="598.21" width="42.35" height="10.18" fill="#f4dc7f"/>
<rect x="251" y="598.21" width="42.85" height="10.18" fill="#f3d97e"/>
<rect x="293.8" y="598.21" width="42.75" height="10.18" fill="#f1d17c"/>
<rect x="336.5" y="598.21" width="42.85" height="10.18" fill="#b6cd7c"/>
<rect x="379.3" y="598.21" width="43.35" height="10.18" fill="#f0e080"/>
<rect x="166" y="608.34" width="42.35" height="10.18" fill="#f0c97a"/>
<rect x="208.3" y="608.34" width="42.75" height="10.18" fill="#8cbf79"/>
<rect x="251" y="608.34" width="42.85" height="10.18" fill="#f4e280"/>
<rect x="293.8" y="608.34" width="42.75" height="10.18" fill="#f1ce7c"/>
<rect x="336.5" y="608.34" width="42.85" height="10.18" fill="#f4e280"/>
<rect x="379.3" y="608.34" width="43.35" height="10.18" fill="#f4df7f"/>
<rect x="166" y="618.47" width="42.35" height="10.18" fill="#ebdf7f"/>
<rect x="208.3" y="618.47" width="42.75" height="10.18" fill="#f0cb7b"/>
<rect x="251" y="618.47" width="42.85" height="10.18" fill="#f4df7f"/>
<rect x="293.8" y="618.47" width="42.75" height="10.18" fill="#91c17a"/>
<rect x="336.5" y="618.47" width="42.85" height="10.18" fill="#d85c62"/>
<rect x="379.3" y="618.47" width="43.35" height="10.18" fill="#f0cb7b"/>
<rect x="166" y="628.6" width="42.35" height="10.18" fill="#eec379"/>
<rect x="208.3" y="628.6" width="42.75" height="10.18" fill="#f1ce7c"/>
<rect x="251" y="628.6" width="42.85" height="10.18" fill="#bccf7c"/>
<rect x="293.8" y="628.6" width="42.75" height="10.18" fill="#f4df7f"/>
<rect x="336.5" y="628.6" width="42.85" height="10.18" fill="#dd7167"/>
<rect x="379.3" y="628.6" width="43.35" height="10.18" fill="#efc57a"/>
<rect x="166" y="638.73" width="42.35" height="10.18" fill="#dbda7e"/>
<rect x="208.3" y="638.73" width="42.75" height="10.18" fill="#eaae74"/>
<rect x="251" y="638.73" width="42.85" height="10.18" fill="#f2d27c"/>
<rect x="293.8" y="638.73" width="42.75" height="10.18" fill="#c8d37d"/>
<rect x="336.5" y="638.73" width="42.85" height="10.18" fill="#da6564"/>
<rect x="379.3" y="638.73" width="43.35" height="10.18" fill="#eec179"/>
<rect x="166" y="648.86" width="42.35" height="10.18" fill="#e7a272"/>
<rect x="208.3" y="648.86" width="42.75" height="10.18" fill="#f1ce7c"/>
<rect x="251" y="648.86" width="42.85" height="10.18" fill="#e9ab74"/>
<rect x="293.8" y="648.86" width="42.75" height="10.18" fill="#e9a873"/>
<rect x="336.5" y="648.86" width="42.85" height="10.18" fill="#aeca7b"/>
<rect x="379.3" y="648.86" width="43.35" height="10.18" fill="#eaaf75"/>
<rect x="166" y="658.99" width="42.35" height="10.18" fill="#eab175"/>
<rect x="208.3" y="658.99" width="42.75" height="10.18" fill="#d95f63"/>
<rect x="251" y="658.99" width="42.85" height="10.18" fill="#f5e280"/>
<rect x="293.8" y="658.99" width="42.75" height="10.18" fill="#e1db7f"/>
<rect x="336.5" y="658.99" width="42.85" height="10.18" fill="#e1856b"/>
<rect x="379.3" y="658.99" width="43.35" height="10.18" fill="#e59970"/>
<rect x="166" y="669.12" width="42.35" height="10.18" fill="#e38d6d"/>
<rect x="208.3" y="669.12" width="42.75" height="10.18" fill="#e5966f"/>
<rect x="251" y="669.12" width="42.85" height="10.18" fill="#edbc78"/>
<rect x="293.8" y="669.12" width="42.75" height="10.18" fill="#efc67a"/>
<rect x="336.5" y="669.12" width="42.85" height="10.18" fill="#f4df7f"/>
<rect x="379.3" y="669.12" width="43.35" height="10.18" fill="#e3906e"/>
<rect x="166" y="679.25" width="42.35" height="10.18" fill="#d85c62"/>
<rect x="208.3" y="679.25" width="42.75" height="10.18" fill="#d85c62"/>
<rect x="251" y="679.25" width="42.85" height="10.18" fill="#d85c62"/>
<rect x="293.8" y="679.25" width="42.75" height="10.18" fill="#d85c62"/>
<rect x="336.5" y="679.25" width="42.85" height="10.18" fill="#58ae76"/>
<rect x="379.3" y="679.25" width="43.35" height="10.18" fill="#d85c62"/>
<text x="93.1" y="535.2" font-size="7.9" text-anchor="start" font-weight="bold" fill="#111">DAR+IMiDs+DEX</text>
<text x="207.3" y="534.9" font-size="7" text-anchor="end" fill="#000" textLength="19.39" lengthAdjust="spacingAndGlyphs" fill-opacity="0.78">0.894</text>
<text x="250" y="534.9" font-size="7" text-anchor="end" fill="#000" textLength="19.39" lengthAdjust="spacingAndGlyphs" fill-opacity="0.78">0.813</text>
<text x="292.8" y="534.9" font-size="7" text-anchor="end" fill="#000" textLength="19.39" lengthAdjust="spacingAndGlyphs" fill-opacity="0.78">0.748</text>
<text x="335.5" y="534.9" font-size="7" text-anchor="end" fill="#000" textLength="19.39" lengthAdjust="spacingAndGlyphs" fill-opacity="0.78">0.583</text>
<text x="378.3" y="534.9" font-size="7" text-anchor="end" fill="#000" textLength="19.39" lengthAdjust="spacingAndGlyphs" fill-opacity="0.78">0.561</text>
<text x="421.6" y="534.9" font-size="7" text-anchor="end" font-weight="bold" fill="#000" textLength="23.7" lengthAdjust="spacingAndGlyphs" fill-opacity="0.78">0.7198</text>
<text x="444" y="535.4" font-size="7.7" text-anchor="middle" font-weight="bold" fill="#111" stroke="#111" stroke-width="0.2">1</text>
<text x="93.1" y="545.33" font-size="7.9" text-anchor="start" font-weight="bold" fill="#111">CARF+IMiDs+DEX</text>
<text x="207.3" y="545.03" font-size="7" text-anchor="end" fill="#000" textLength="19.39" lengthAdjust="spacingAndGlyphs" fill-opacity="0.78">0.572</text>
<text x="250" y="545.03" font-size="7" text-anchor="end" fill="#000" textLength="19.39" lengthAdjust="spacingAndGlyphs" fill-opacity="0.78">0.662</text>
<text x="292.8" y="545.03" font-size="7" text-anchor="end" fill="#000" textLength="19.39" lengthAdjust="spacingAndGlyphs" fill-opacity="0.78">0.691</text>
<text x="335.5" y="545.03" font-size="7" text-anchor="end" fill="#000" textLength="19.39" lengthAdjust="spacingAndGlyphs" fill-opacity="0.78">0.635</text>
<text x="378.3" y="545.03" font-size="7" text-anchor="end" fill="#000" textLength="19.39" lengthAdjust="spacingAndGlyphs" fill-opacity="0.78">0.607</text>
<text x="421.6" y="545.03" font-size="7" text-anchor="end" font-weight="bold" fill="#000" textLength="23.7" lengthAdjust="spacingAndGlyphs" fill-opacity="0.78">0.6334</text>
<text x="444" y="545.53" font-size="7.7" text-anchor="middle" font-weight="bold" fill="#111" stroke="#111" stroke-width="0.2">2</text>
<text x="93.1" y="555.46" font-size="7.9" text-anchor="start" font-weight="bold" fill="#111">DAR+BORT+DEX</text>
<text x="207.3" y="555.16" font-size="7" text-anchor="end" fill="#000" textLength="19.39" lengthAdjust="spacingAndGlyphs" fill-opacity="0.78">0.834</text>
<text x="250" y="555.16" font-size="7" text-anchor="end" fill="#000" textLength="19.39" lengthAdjust="spacingAndGlyphs" fill-opacity="0.78">0.537</text>
<text x="292.8" y="555.16" font-size="7" text-anchor="end" fill="#000" textLength="19.39" lengthAdjust="spacingAndGlyphs" fill-opacity="0.78">0.691</text>
<text x="335.5" y="555.16" font-size="7" text-anchor="end" fill="#000" textLength="19.39" lengthAdjust="spacingAndGlyphs" fill-opacity="0.78">0.634</text>
<text x="378.3" y="555.16" font-size="7" text-anchor="end" fill="#000" textLength="19.39" lengthAdjust="spacingAndGlyphs" fill-opacity="0.78">0.381</text>
<text x="421.6" y="555.16" font-size="7" text-anchor="end" font-weight="bold" fill="#000" textLength="23.7" lengthAdjust="spacingAndGlyphs" fill-opacity="0.78">0.6154</text>
<text x="444" y="555.66" font-size="7.7" text-anchor="middle" font-weight="bold" fill="#111" stroke="#111" stroke-width="0.2">3</text>
<text x="93.1" y="565.59" font-size="7.9" text-anchor="start" font-weight="bold" fill="#111">BORT+IMiDs+DEX</text>
<text x="207.3" y="565.29" font-size="7" text-anchor="end" fill="#000" textLength="19.39" lengthAdjust="spacingAndGlyphs" fill-opacity="0.78">0.636</text>
<text x="250" y="565.29" font-size="7" text-anchor="end" fill="#000" textLength="19.39" lengthAdjust="spacingAndGlyphs" fill-opacity="0.78">0.758</text>
<text x="292.8" y="565.29" font-size="7" text-anchor="end" fill="#000" textLength="15.08" lengthAdjust="spacingAndGlyphs" fill-opacity="0.78">0.58</text>
<text x="335.5" y="565.29" font-size="7" text-anchor="end" fill="#000" textLength="19.39" lengthAdjust="spacingAndGlyphs" fill-opacity="0.78">0.575</text>
<text x="378.3" y="565.29" font-size="7" text-anchor="end" fill="#000" textLength="19.39" lengthAdjust="spacingAndGlyphs" fill-opacity="0.78">0.436</text>
<text x="421.6" y="565.29" font-size="7" text-anchor="end" font-weight="bold" fill="#000" textLength="19.39" lengthAdjust="spacingAndGlyphs" fill-opacity="0.78">0.597</text>
<text x="444" y="565.79" font-size="7.7" text-anchor="middle" font-weight="bold" fill="#111" stroke="#111" stroke-width="0.2">4</text>
<text x="93.1" y="575.72" font-size="7.9" text-anchor="start" font-weight="bold" fill="#111">ELO+IMiDs+DEX</text>
<text x="207.3" y="575.42" font-size="7" text-anchor="end" fill="#000" textLength="19.39" lengthAdjust="spacingAndGlyphs" fill-opacity="0.78">0.563</text>
<text x="250" y="575.42" font-size="7" text-anchor="end" fill="#000" textLength="19.39" lengthAdjust="spacingAndGlyphs" fill-opacity="0.78">0.681</text>
<text x="292.8" y="575.42" font-size="7" text-anchor="end" fill="#000" textLength="19.39" lengthAdjust="spacingAndGlyphs" fill-opacity="0.78">0.545</text>
<text x="335.5" y="575.42" font-size="7" text-anchor="end" fill="#000" textLength="19.39" lengthAdjust="spacingAndGlyphs" fill-opacity="0.78">0.292</text>
<text x="378.3" y="575.42" font-size="7" text-anchor="end" fill="#000" textLength="19.39" lengthAdjust="spacingAndGlyphs" fill-opacity="0.78">0.678</text>
<text x="421.6" y="575.42" font-size="7" text-anchor="end" font-weight="bold" fill="#000" textLength="23.7" lengthAdjust="spacingAndGlyphs" fill-opacity="0.78">0.5518</text>
<text x="444" y="575.92" font-size="7.7" text-anchor="middle" font-weight="bold" fill="#111" stroke="#111" stroke-width="0.2">5</text>
<text x="93.1" y="585.85" font-size="7.9" text-anchor="start" font-weight="bold" fill="#111">CARF+DEX</text>
<text x="207.3" y="585.55" font-size="7" text-anchor="end" fill="#000" textLength="19.39" lengthAdjust="spacingAndGlyphs" fill-opacity="0.78">0.675</text>
<text x="250" y="585.55" font-size="7" text-anchor="end" fill="#000" textLength="19.39" lengthAdjust="spacingAndGlyphs" fill-opacity="0.78">0.505</text>
<text x="292.8" y="585.55" font-size="7" text-anchor="end" fill="#000" textLength="19.39" lengthAdjust="spacingAndGlyphs" fill-opacity="0.78">0.602</text>
<text x="335.5" y="585.55" font-size="7" text-anchor="end" fill="#000" textLength="15.08" lengthAdjust="spacingAndGlyphs" fill-opacity="0.78">0.61</text>
<text x="378.3" y="585.55" font-size="7" text-anchor="end" fill="#000" textLength="19.39" lengthAdjust="spacingAndGlyphs" fill-opacity="0.78">0.365</text>
<text x="421.6" y="585.55" font-size="7" text-anchor="end" font-weight="bold" fill="#000" textLength="23.7" lengthAdjust="spacingAndGlyphs" fill-opacity="0.78">0.5514</text>
<text x="444" y="586.05" font-size="7.7" text-anchor="middle" font-weight="bold" fill="#111" stroke="#111" stroke-width="0.2">6</text>
<text x="93.1" y="595.98" font-size="7.9" text-anchor="start" font-weight="bold" fill="#111">ELO+BORT+DEX</text>
<text x="207.3" y="595.68" font-size="7" text-anchor="end" fill="#000" textLength="19.39" lengthAdjust="spacingAndGlyphs" fill-opacity="0.78">0.458</text>
<text x="250" y="595.68" font-size="7" text-anchor="end" fill="#000" textLength="19.39" lengthAdjust="spacingAndGlyphs" fill-opacity="0.78">0.737</text>
<text x="292.8" y="595.68" font-size="7" text-anchor="end" fill="#000" textLength="19.39" lengthAdjust="spacingAndGlyphs" fill-opacity="0.78">0.449</text>
<text x="335.5" y="595.68" font-size="7" text-anchor="end" fill="#000" textLength="19.39" lengthAdjust="spacingAndGlyphs" fill-opacity="0.78">0.464</text>
<text x="378.3" y="595.68" font-size="7" text-anchor="end" fill="#000" textLength="19.39" lengthAdjust="spacingAndGlyphs" fill-opacity="0.78">0.602</text>
<text x="421.6" y="595.68" font-size="7" text-anchor="end" font-weight="bold" fill="#000" textLength="19.39" lengthAdjust="spacingAndGlyphs" fill-opacity="0.78">0.542</text>
<text x="444" y="596.18" font-size="7.7" text-anchor="middle" font-weight="bold" fill="#111" stroke="#111" stroke-width="0.2">7</text>
<text x="93.1" y="606.11" font-size="7.9" text-anchor="start" font-weight="bold" fill="#111">IXA+IMiDs+DEX</text>
<text x="207.3" y="605.81" font-size="7" text-anchor="end" fill="#000" textLength="19.39" lengthAdjust="spacingAndGlyphs" fill-opacity="0.78">0.516</text>
<text x="292.8" y="605.81" font-size="7" text-anchor="end" fill="#000" textLength="15.08" lengthAdjust="spacingAndGlyphs" fill-opacity="0.78">0.46</text>
<text x="335.5" y="605.81" font-size="7" text-anchor="end" fill="#000" textLength="19.39" lengthAdjust="spacingAndGlyphs" fill-opacity="0.78">0.498</text>
<text x="378.3" y="605.81" font-size="7" text-anchor="end" fill="#000" textLength="19.39" lengthAdjust="spacingAndGlyphs" fill-opacity="0.78">0.642</text>
<text x="421.6" y="605.81" font-size="7" text-anchor="end" font-weight="bold" fill="#000" textLength="19.39" lengthAdjust="spacingAndGlyphs" fill-opacity="0.78">0.529</text>
<text x="444" y="606.31" font-size="7.7" text-anchor="middle" font-weight="bold" fill="#111" stroke="#111" stroke-width="0.2">8</text>
<text x="93.1" y="616.24" font-size="7.9" text-anchor="start" font-weight="bold" fill="#111">BEV+BORT</text>
<text x="207.3" y="615.94" font-size="7" text-anchor="end" fill="#000" textLength="19.39" lengthAdjust="spacingAndGlyphs" fill-opacity="0.78">0.441</text>
<text x="250" y="615.94" font-size="7" text-anchor="end" fill="#000" textLength="18.82" lengthAdjust="spacingAndGlyphs" fill-opacity="0.78">0.711</text>
<text x="292.8" y="615.94" font-size="7" text-anchor="end" fill="#000" textLength="19.39" lengthAdjust="spacingAndGlyphs" fill-opacity="0.78">0.491</text>
<text x="335.5" y="615.94" font-size="7" text-anchor="end" fill="#000" textLength="15.08" lengthAdjust="spacingAndGlyphs" fill-opacity="0.78">0.49</text>
<text x="378.3" y="615.94" font-size="7" text-anchor="end" fill="#000" textLength="19.39" lengthAdjust="spacingAndGlyphs" fill-opacity="0.78">0.449</text>
<text x="421.6" y="615.94" font-size="7" text-anchor="end" font-weight="bold" fill="#000" textLength="23.7" lengthAdjust="spacingAndGlyphs" fill-opacity="0.78">0.5164</text>
<text x="444" y="616.44" font-size="7.7" text-anchor="middle" font-weight="bold" fill="#111" stroke="#111" stroke-width="0.2">9</text>
<text x="93.1" y="626.37" font-size="7.9" text-anchor="start" font-weight="bold" fill="#111">PAN+BORT+DEX</text>
<text x="207.3" y="626.07" font-size="7" text-anchor="end" fill="#000" textLength="19.39" lengthAdjust="spacingAndGlyphs" fill-opacity="0.78">0.562</text>
<text x="250" y="626.07" font-size="7" text-anchor="end" fill="#000" textLength="19.39" lengthAdjust="spacingAndGlyphs" fill-opacity="0.78">0.431</text>
<text x="292.8" y="626.07" font-size="7" text-anchor="end" fill="#000" textLength="19.39" lengthAdjust="spacingAndGlyphs" fill-opacity="0.78">0.479</text>
<text x="335.5" y="626.07" font-size="7" text-anchor="end" fill="#000" textLength="19.39" lengthAdjust="spacingAndGlyphs" fill-opacity="0.78">0.607</text>
<text x="378.3" y="626.07" font-size="7" text-anchor="end" fill="#000" textLength="19.39" lengthAdjust="spacingAndGlyphs" fill-opacity="0.78">0.289</text>
<text x="421.6" y="626.07" font-size="7" text-anchor="end" font-weight="bold" fill="#000" textLength="23.7" lengthAdjust="spacingAndGlyphs" fill-opacity="0.78">0.4736</text>
<text x="444" y="626.57" font-size="7.7" text-anchor="middle" font-weight="bold" fill="#111" stroke="#111" stroke-width="0.2">10</text>
<text x="93.1" y="636.5" font-size="7.9" text-anchor="start" font-weight="bold" fill="#111">VOR+BORT</text>
<text x="207.3" y="636.2" font-size="7" text-anchor="end" fill="#000" textLength="19.39" lengthAdjust="spacingAndGlyphs" fill-opacity="0.78">0.417</text>
<text x="250" y="636.2" font-size="7" text-anchor="end" fill="#000" textLength="19.39" lengthAdjust="spacingAndGlyphs" fill-opacity="0.78">0.443</text>
<text x="292.8" y="636.2" font-size="7" text-anchor="end" fill="#000" textLength="19.39" lengthAdjust="spacingAndGlyphs" fill-opacity="0.78">0.584</text>
<text x="335.5" y="636.2" font-size="7" text-anchor="end" fill="#000" textLength="19.39" lengthAdjust="spacingAndGlyphs" fill-opacity="0.78">0.548</text>
<text x="378.3" y="636.2" font-size="7" text-anchor="end" fill="#000" textLength="19.39" lengthAdjust="spacingAndGlyphs" fill-opacity="0.78">0.314</text>
<text x="421.6" y="636.2" font-size="7" text-anchor="end" font-weight="bold" fill="#000" textLength="23.7" lengthAdjust="spacingAndGlyphs" fill-opacity="0.78">0.4612</text>
<text x="444" y="636.7" font-size="7.7" text-anchor="middle" font-weight="bold" fill="#111" stroke="#111" stroke-width="0.2">11</text>
<text x="93.1" y="646.63" font-size="7.9" text-anchor="start" font-weight="bold" fill="#111">PLD+BORT</text>
<text x="207.3" y="646.33" font-size="7" text-anchor="end" fill="#000" textLength="19.39" lengthAdjust="spacingAndGlyphs" fill-opacity="0.78">0.597</text>
<text x="250" y="646.33" font-size="7" text-anchor="end" fill="#000" textLength="19.39" lengthAdjust="spacingAndGlyphs" fill-opacity="0.78">0.342</text>
<text x="292.8" y="646.33" font-size="7" text-anchor="end" fill="#000" textLength="19.39" lengthAdjust="spacingAndGlyphs" fill-opacity="0.78">0.439</text>
<text x="335.5" y="646.33" font-size="7" text-anchor="end" fill="#000" textLength="15.08" lengthAdjust="spacingAndGlyphs" fill-opacity="0.78">0.58</text>
<text x="378.3" y="646.33" font-size="7" text-anchor="end" fill="#000" textLength="19.39" lengthAdjust="spacingAndGlyphs" fill-opacity="0.78">0.299</text>
<text x="421.6" y="646.33" font-size="7" text-anchor="end" font-weight="bold" fill="#000" textLength="23.7" lengthAdjust="spacingAndGlyphs" fill-opacity="0.78">0.4514</text>
<text x="444" y="646.83" font-size="7.7" text-anchor="middle" font-weight="bold" fill="#111" stroke="#111" stroke-width="0.2">12</text>
<text x="93.1" y="656.76" font-size="7.9" text-anchor="start" font-weight="bold" fill="#111">IMiDs+/-DEX</text>
<text x="207.3" y="656.46" font-size="7" text-anchor="end" fill="#000" textLength="19.39" lengthAdjust="spacingAndGlyphs" fill-opacity="0.78">0.284</text>
<text x="250" y="656.46" font-size="7" text-anchor="end" fill="#000" textLength="19.39" lengthAdjust="spacingAndGlyphs" fill-opacity="0.78">0.443</text>
<text x="292.8" y="656.46" font-size="7" text-anchor="end" fill="#000" textLength="19.39" lengthAdjust="spacingAndGlyphs" fill-opacity="0.78">0.317</text>
<text x="335.5" y="656.46" font-size="7" text-anchor="end" fill="#000" textLength="19.39" lengthAdjust="spacingAndGlyphs" fill-opacity="0.78">0.359</text>
<text x="378.3" y="656.46" font-size="7" text-anchor="end" fill="#000" textLength="19.39" lengthAdjust="spacingAndGlyphs" fill-opacity="0.78">0.666</text>
<text x="421.6" y="656.46" font-size="7" text-anchor="end" font-weight="bold" fill="#000" textLength="23.7" lengthAdjust="spacingAndGlyphs" fill-opacity="0.78">0.4138</text>
<text x="444" y="656.96" font-size="7.7" text-anchor="middle" font-weight="bold" fill="#111" stroke="#111" stroke-width="0.2">13</text>
<text x="93.1" y="666.89" font-size="7.9" text-anchor="start" font-weight="bold" fill="#111">SILT+BORT</text>
<text x="207.3" y="666.59" font-size="7" text-anchor="end" fill="#000" textLength="19.39" lengthAdjust="spacingAndGlyphs" fill-opacity="0.78">0.344</text>
<text x="250" y="666.59" font-size="7" text-anchor="end" fill="#000" textLength="19.39" lengthAdjust="spacingAndGlyphs" fill-opacity="0.78">0.092</text>
<text x="292.8" y="666.59" font-size="7" text-anchor="end" fill="#000" textLength="19.39" lengthAdjust="spacingAndGlyphs" fill-opacity="0.78">0.489</text>
<text x="335.5" y="666.59" font-size="7" text-anchor="end" fill="#000" textLength="19.39" lengthAdjust="spacingAndGlyphs" fill-opacity="0.78">0.568</text>
<text x="378.3" y="666.59" font-size="7" text-anchor="end" fill="#000" textLength="19.39" lengthAdjust="spacingAndGlyphs" fill-opacity="0.78">0.337</text>
<text x="421.6" y="666.59" font-size="7" text-anchor="end" font-weight="bold" fill="#000" textLength="19.39" lengthAdjust="spacingAndGlyphs" fill-opacity="0.78">0.366</text>
<text x="444" y="667.09" font-size="7.7" text-anchor="middle" font-weight="bold" fill="#111" stroke="#111" stroke-width="0.2">14</text>
<text x="93.1" y="677.02" font-size="7.9" text-anchor="start" font-weight="bold" fill="#111">BORT+/-DEX</text>
<text x="207.3" y="676.72" font-size="7" text-anchor="end" fill="#000" textLength="19.39" lengthAdjust="spacingAndGlyphs" fill-opacity="0.78">0.201</text>
<text x="250" y="676.72" font-size="7" text-anchor="end" fill="#000" textLength="19.39" lengthAdjust="spacingAndGlyphs" fill-opacity="0.78">0.264</text>
<text x="292.8" y="676.72" font-size="7" text-anchor="end" fill="#000" textLength="15.08" lengthAdjust="spacingAndGlyphs" fill-opacity="0.78">0.37</text>
<text x="335.5" y="676.72" font-size="7" text-anchor="end" fill="#000" textLength="19.39" lengthAdjust="spacingAndGlyphs" fill-opacity="0.78">0.461</text>
<text x="378.3" y="676.72" font-size="7" text-anchor="end" fill="#000" textLength="19.39" lengthAdjust="spacingAndGlyphs" fill-opacity="0.78">0.441</text>
<text x="421.6" y="676.72" font-size="7" text-anchor="end" font-weight="bold" fill="#000" textLength="23.7" lengthAdjust="spacingAndGlyphs" fill-opacity="0.78">0.3474</text>
<text x="444" y="677.22" font-size="7.7" text-anchor="middle" font-weight="bold" fill="#111" stroke="#111" stroke-width="0.2">15</text>
<text x="93.1" y="687.15" font-size="7.9" text-anchor="start" font-weight="bold" fill="#111">DEX</text>
<text x="207.3" y="686.85" font-size="7" text-anchor="end" fill="#000" textLength="19.39" lengthAdjust="spacingAndGlyphs" fill-opacity="0.78">0.006</text>
<text x="250" y="686.85" font-size="7" text-anchor="end" fill="#000" textLength="19.39" lengthAdjust="spacingAndGlyphs" fill-opacity="0.78">0.081</text>
<text x="292.8" y="686.85" font-size="7" text-anchor="end" fill="#000" textLength="19.39" lengthAdjust="spacingAndGlyphs" fill-opacity="0.78">0.066</text>
<text x="335.5" y="686.85" font-size="7" text-anchor="end" fill="#000" textLength="19.39" lengthAdjust="spacingAndGlyphs" fill-opacity="0.78">0.096</text>
<text x="378.3" y="686.85" font-size="7" text-anchor="end" fill="#000" textLength="19.39" lengthAdjust="spacingAndGlyphs" fill-opacity="0.78">0.933</text>
<text x="421.6" y="686.85" font-size="7" text-anchor="end" font-weight="bold" fill="#000" textLength="23.7" lengthAdjust="spacingAndGlyphs" fill-opacity="0.78">0.2364</text>
<text x="444" y="687.35" font-size="7.7" text-anchor="middle" font-weight="bold" fill="#111" stroke="#111" stroke-width="0.2">16</text>
<defs><linearGradient id="g" x1="0" x2="1" y1="0" y2="0"><stop offset="0" stop-color="rgb(216, 92, 98)"/><stop offset="0.5" stop-color="rgb(245, 226, 128)"/><stop offset="1" stop-color="rgb(88, 174, 118)"/></linearGradient></defs>
<rect x="164.4" y="702" width="259.3" height="4.2" fill="url(#g)"/>
<text x="153.2" y="712.8" font-size="7.5" text-anchor="start" font-weight="bold" fill="#111" textLength="23.2" lengthAdjust="spacingAndGlyphs">Worse</text>
<text x="409.8" y="713.3" font-size="7.5" text-anchor="start" font-weight="bold" fill="#111" textLength="23.1" lengthAdjust="spacingAndGlyphs">Better</text>
<line x1="6.8" y1="249.6" x2="512.5" y2="249.6" stroke="#111" stroke-width="1.5" stroke-dasharray="1.9 1.75"/>
<line x1="6.8" y1="499.1" x2="512.5" y2="499.1" stroke="#111" stroke-width="1.5" stroke-dasharray="1.9 1.75"/>
<rect x="0" y="0" width="520" height="1.1" fill="#000"/>
<rect x="0" y="0" width="1.1" height="722" fill="#000"/>
<rect x="518.9" y="0" width="1.1" height="722" fill="#000"/>
<rect x="0" y="720.7" width="520" height="1.3" fill="#000"/>
</svg>
</body></html>
